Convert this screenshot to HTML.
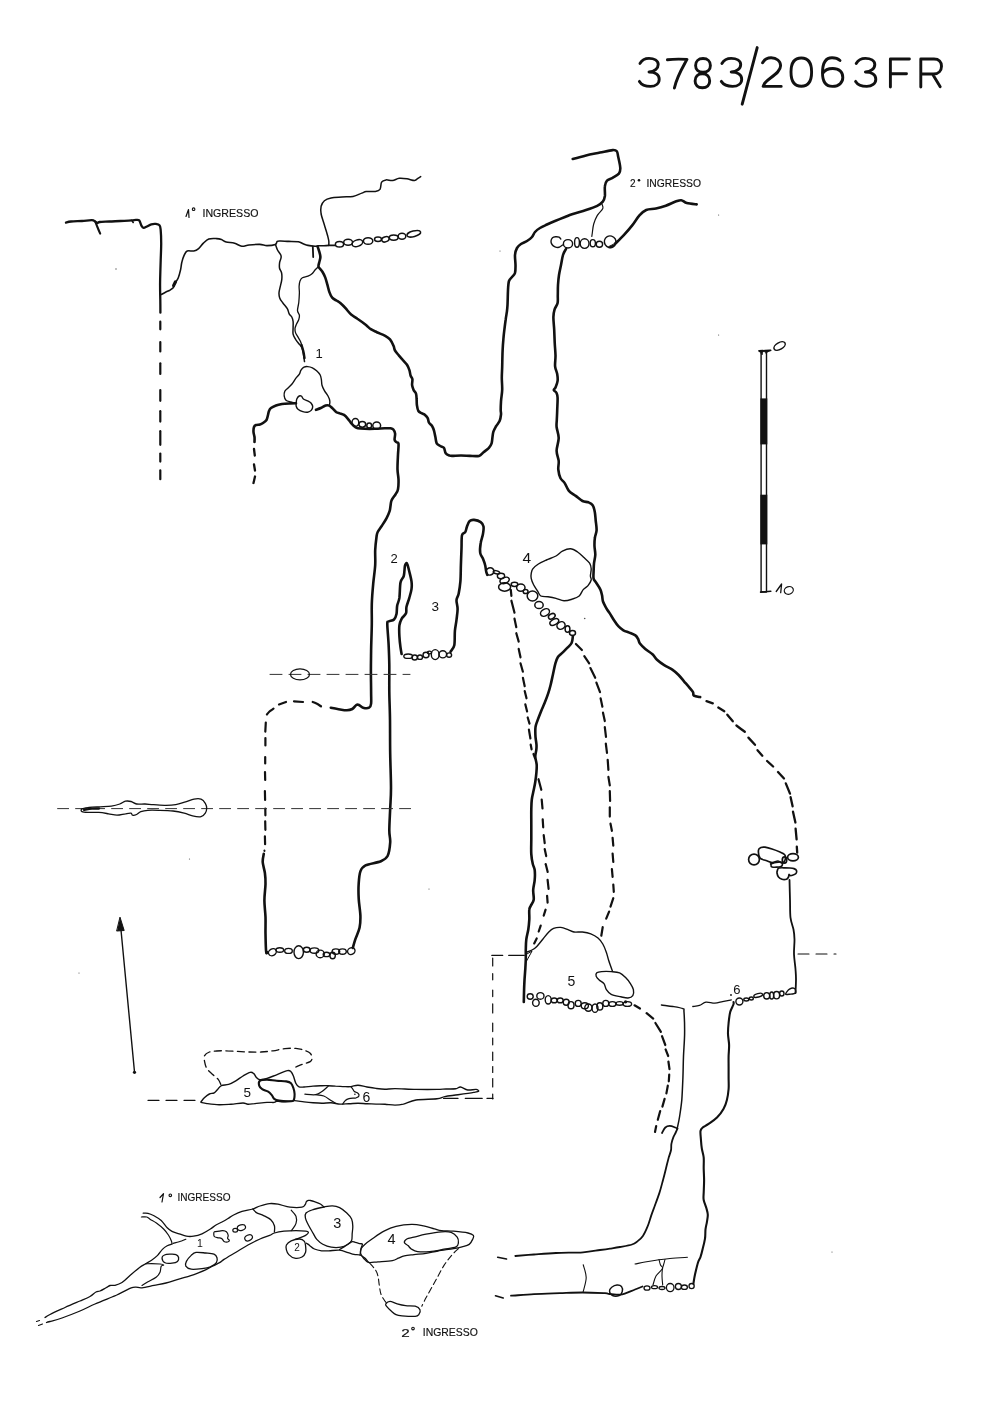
<!DOCTYPE html>
<html><head><meta charset="utf-8"><title>3783/2063FR</title>
<style>
html,body{margin:0;padding:0;background:#fff;}
body{width:1000px;height:1411px;overflow:hidden;}
svg{display:block;}
svg text{font-family:"Liberation Sans",sans-serif;fill:#111;stroke:none;}
</style></head>
<body>
<svg width="1000" height="1411" viewBox="0 0 1000 1411">
<defs><filter id="gs" x="-0.2" y="-0.5" width="1.4" height="2"><feColorMatrix type="saturate" values="0"/></filter></defs>
<rect width="1000" height="1411" fill="#fff"/>
<g fill="none" stroke="#111" stroke-linecap="round" stroke-linejoin="round">
<path d="M66,222.6 C66.8,222.4 68.3,221.8 71,221.5 C73.7,221.2 78.5,221.2 82,221 C85.5,220.8 89.7,220.1 91.9,220.2 C94.1,220.3 94.3,221 95.2,221.5 C96.1,222 96.7,223.1 97.4,223.2 C98.1,223.3 97.6,222.3 99.6,222 C101.6,221.7 106,221.7 109.5,221.5 C113,221.3 116.8,221.2 120.5,221 C124.2,220.8 128.9,220.6 131.5,220.4 C134.1,220.2 134.6,219.9 135.9,219.9 C137.2,219.9 138.3,219.5 139.2,220.4 C140.1,221.3 140.7,224.4 141.4,225.6 C142.1,226.8 142.7,227.7 143.6,227.8 C144.5,228 145.6,227.1 146.9,226.5 C148.2,225.9 149.8,224.7 151.3,224.3 C152.8,223.9 154.3,223.7 155.7,223.9 C157.1,224.1 158.8,224.3 159.6,225.4 C160.4,226.5 160.4,227.3 160.7,230.3 C161,233.3 161.2,238.6 161.2,243.5 C161.2,248.4 160.9,253.6 160.7,260 C160.5,266.4 160.2,275.4 160.1,282 C160,288.6 160.2,294.5 160.3,299.6 C160.4,304.7 160.4,310.5 160.4,312.7" stroke-width="2.3"/>
<path d="M95.2,221.5 C95.6,222.4 96.6,225 97.4,227 C98.2,229 99.7,232.5 100.2,233.6" stroke-width="2.1"/>
<path d="M131.8,220.4 L133.2,222.5" stroke-width="1.6"/>
<path d="M160.3,321.7 L160.3,329.3" stroke-width="2.2"/>
<path d="M160.3,342 L160.3,351.4" stroke-width="2.2"/>
<path d="M160.3,363.3 L160.3,374" stroke-width="2.2"/>
<path d="M160.3,390 L160.3,400.8" stroke-width="2.2"/>
<path d="M160.3,411.2 L160.3,421.6" stroke-width="2.2"/>
<path d="M160.3,431.2 L160.3,444.8" stroke-width="2.2"/>
<path d="M160.3,453.6 L160.3,461.6" stroke-width="2.2"/>
<path d="M160.3,470.4 L160.3,479.2" stroke-width="2.2"/>
<path d="M161.3,294.5 C162,294.1 164.1,292.9 165.5,292.2 C166.9,291.5 168.5,290.9 169.8,290.2 C171.1,289.4 172.4,288.7 173.2,287.7 C174,286.7 173.8,285.6 174.6,284 C175.4,282.4 177.2,280.4 178.2,278 C179.2,275.6 180,272.2 180.6,269.6 C181.2,267 181.2,264.8 181.8,262.4 C182.4,260 183.3,257.1 184.2,255.2 C185.1,253.3 185.6,251.7 187.2,251 C188.8,250.3 191.9,251.4 193.8,251 C195.7,250.6 197,249.9 198.6,248.6 C200.2,247.3 201.7,244.8 203.4,243.2 C205.1,241.6 206.6,239.8 208.8,239 C211,238.2 214.5,238.5 216.6,238.6 C218.7,238.7 219.8,239 221.4,239.6 C223,240.2 224,241.4 226.2,242 C228.4,242.6 232,242.5 234.6,243.2 C237.2,243.9 239.4,245.9 241.8,246.2 C244.2,246.5 246,245.3 249,245 C252,244.7 256.8,244.3 259.8,244.4 C262.8,244.5 264.4,245.6 267,245.6 C269.6,245.6 273.7,245.1 275.4,244.4 C277.1,243.7 276.3,242 277.2,241.4 C278.1,240.8 278.9,241 280.8,241 C282.7,241 285.9,241.3 288.8,241.4 C291.7,241.5 296,241.4 298.4,241.8 C300.8,242.2 301.6,243.2 303.2,243.8 C304.8,244.4 306,245 308,245.4 C310,245.8 313.5,246.1 315.2,246.2 C316.9,246.3 316.9,245.9 318.4,245.8 C319.9,245.7 322.3,245.9 324,245.8 C325.7,245.7 326.9,245.5 328.8,245.4 C330.7,245.3 334.1,245.4 335.2,245.4" stroke-width="1.6"/>
<path d="M173.6,285.6 L175.4,282" stroke-width="3.2"/>
<path d="M275.4,244.4 C275.8,245.3 276.6,248.2 277.5,250 C278.4,251.8 280.2,253.7 280.8,255 C281.4,256.3 281.2,256.7 281,258 C280.8,259.3 279.9,260.9 279.6,262.6 C279.4,264.3 279.2,266.3 279.5,268 C279.8,269.7 281.2,271.1 281.6,273 C282,274.9 282,277.2 281.8,279.4 C281.6,281.6 280.8,284.2 280.3,286.4 C279.8,288.6 279.1,290.9 279,292.8 C278.9,294.7 279.1,296.2 279.7,297.9 C280.3,299.6 281.6,301.2 282.9,303 C284.2,304.8 286.2,306.9 287.3,308.7 C288.4,310.5 288.4,312.4 289.2,313.8 C289.9,315.2 291.1,315.7 291.8,317 C292.5,318.3 292.9,319.7 293.1,321.5 C293.3,323.3 293.1,325.7 293.1,327.8 C293.1,329.9 292.7,332.3 293.1,334.2 C293.5,336.1 294.6,337.6 295.6,339.3 C296.7,341 298.3,343 299.4,344.4 C300.5,345.8 301.4,346.1 302,347.6 C302.6,349.1 302.9,351 303.3,353.3 C303.7,355.6 304.3,360.2 304.5,361.6" stroke-width="1.5"/>
<path d="M318.4,266.6 C317.9,267.1 316.3,268.6 315.2,269.8 C314.1,271 313.2,272.7 312,273.8 C310.8,274.9 309.6,275.5 308,276.2 C306.4,276.9 303.7,277 302.4,277.8 C301.1,278.6 300.6,279.6 300,281 C299.4,282.4 299.2,284.4 299.1,286.4 C299,288.4 299.4,290.1 299.4,292.8 C299.3,295.5 299.1,299.3 298.8,302.3 C298.5,305.3 297.4,308.5 297.5,310.6 C297.6,312.7 299.2,313.6 299.4,315.1 C299.6,316.6 299.3,317.9 298.8,319.5 C298.3,321.1 296.9,323.1 296.3,324.6 C295.7,326.1 295.1,327.1 295,328.5 C294.9,329.9 295.1,331.4 295.6,332.9 C296.1,334.4 297.4,335.9 298.2,337.4 C299,338.9 300.1,340.4 300.7,341.9 C301.3,343.4 301.8,345.6 302,346.3" stroke-width="1.3"/>
<path d="M301.5,345 C301.8,346.2 303,349.8 303.5,352 C304,354.2 304.3,357 304.5,358" stroke-width="2.4"/>
<path d="M312.8,246.6 L313.2,257" stroke-width="1.8"/>
<path d="M328.8,245.4 C328.8,244.7 329,242.6 328.8,241 C328.6,239.4 328.4,238.7 327.7,236 C327,233.3 325.5,228.7 324.4,225 C323.3,221.3 321.7,217.1 321.1,214 C320.6,210.9 320.6,208.5 321.1,206.3 C321.7,204.1 322.8,202.2 324.4,200.8 C326,199.4 328.1,198.6 331,198 C333.9,197.4 338.3,197.3 342,197 C345.7,196.7 349.7,197.1 353,196.4 C356.3,195.8 359.6,193.9 361.8,193.1 C364,192.3 364,191.8 366.2,191.5 C368.4,191.2 372.7,191.9 375,191.5 C377.3,191.1 378.9,190.9 380,189.3 C381.1,187.7 380.6,183.7 381.6,182.1 C382.6,180.5 384.2,180.2 386,179.9 C387.8,179.6 390.4,180.8 392.6,180.5 C394.8,180.2 396.8,178.6 399.2,178.3 C401.6,178 404.3,178.4 406.9,178.8 C409.5,179.2 412.8,180.6 414.6,180.5 C416.4,180.4 416.9,179 417.9,178.3 C418.9,177.7 420.2,176.9 420.7,176.6" stroke-width="1.5"/>
<ellipse cx="339.5" cy="244.2" rx="4.1" ry="2.8" stroke-width="1.5"/>
<ellipse cx="348.1" cy="242.3" rx="4.4" ry="3" stroke-width="1.5"/>
<ellipse cx="357.4" cy="243.1" rx="5.5" ry="3.2" stroke-width="1.5" transform="rotate(-20 357.4 243.1)"/>
<ellipse cx="368.1" cy="241" rx="4.7" ry="3.3" stroke-width="1.5"/>
<ellipse cx="378" cy="239.3" rx="3.5" ry="2.2" stroke-width="1.5"/>
<ellipse cx="385.4" cy="239.3" rx="3.8" ry="2.5" stroke-width="1.5" transform="rotate(-20 385.4 239.3)"/>
<ellipse cx="393.7" cy="237.6" rx="4.4" ry="2.7" stroke-width="1.5"/>
<ellipse cx="402" cy="236.3" rx="3.8" ry="3" stroke-width="1.5"/>
<ellipse cx="413.8" cy="233.8" rx="7" ry="2.8" stroke-width="1.5" transform="rotate(-15 413.8 233.8)"/>
<path d="M317.6,246.6 C317.9,247.4 318.7,249.7 319.2,251.4 C319.7,253.1 320.4,255.1 320.4,257 C320.4,258.9 319.5,261 319.2,262.6 C318.9,264.2 318.1,265.3 318.6,266.8 C319.1,268.3 321.3,270 322.4,271.8 C323.5,273.6 324.4,275.3 325.2,277.4 C326,279.5 326.6,281.9 327.3,284.4 C328,286.8 328.6,289.9 329.4,292.1 C330.2,294.3 331,296.3 332.2,297.7 C333.4,299.1 335,299.6 336.4,300.5 C337.8,301.4 339.1,302 340.6,303.3 C342.1,304.6 343.8,306.3 345.5,308.2 C347.2,310.1 349.1,312.8 351.1,314.5 C353.1,316.2 354.9,316.9 357.4,318.7 C359.9,320.4 363.8,323.2 366,325 C368.2,326.8 369,328 370.8,329.2 C372.6,330.4 374.4,331.1 376.8,332.2 C379.2,333.3 383,334.6 385.2,335.8 C387.4,337 388.6,337.7 390,339.4 C391.4,341.1 392.8,344.1 393.6,346 C394.4,347.9 394.1,348.9 395,350.5 C395.9,352.1 397.7,354 399,355.6 C400.3,357.2 401.5,358.5 402.8,360 C404.1,361.5 405.9,363.1 407,364.8 C408.1,366.5 408.8,368.4 409.4,370.2 C410,372 410.1,374.1 410.6,375.6 C411.1,377.1 412.1,377.6 412.4,379.2 C412.6,380.8 411.9,383.4 412.1,385.2 C412.3,387 413,388.6 413.6,390 C414.2,391.4 415.5,392.1 416,393.6 C416.5,395.1 416.5,397.1 416.6,399 C416.8,400.9 416.6,403 416.9,405 C417.2,407 417.5,409.6 418.4,411 C419.2,412.4 420.9,412.7 422,413.4 C423.1,414.1 424.1,414.2 425,415 C425.9,415.8 427,416.8 427.7,418.1 C428.4,419.4 428.2,421.2 429,422.6 C429.8,424 431.4,424.9 432.2,426.2 C433,427.5 433.5,428.9 434,430.7 C434.5,432.5 434.9,434.9 435.4,437 C435.8,439.1 435.9,441.8 436.7,443.3 C437.5,444.8 439.1,445.2 440.3,446 C441.5,446.8 443,446.6 443.9,447.8 C444.8,449 444.8,451.9 445.7,453.2 C446.6,454.5 448.2,455.1 449.3,455.5 C450.4,455.9 450.1,455.9 452,455.9 C453.9,455.9 458,455.5 461,455.5 C464,455.5 467,455.8 470,455.9 C473,456 476.8,456.5 479,455.9 C481.2,455.3 481.9,453.6 483.5,452.3 C485.1,451 487.5,449.3 488.9,447.8 C490.2,446.3 491,445.1 491.6,443.3 C492.2,441.5 492.2,438.9 492.5,437 C492.8,435.1 492.8,433.4 493.4,431.6 C494,429.8 495.1,428 496.1,426.2 C497.2,424.4 498.9,422.8 499.7,420.8 C500.5,418.9 500.8,416.3 501,414.5 C501.2,412.7 500.7,412.2 500.7,410 C500.7,407.8 500.8,404.7 501,401.3 C501.2,397.9 502.1,393.5 502.2,389.6 C502.3,385.7 501.8,381.8 501.8,377.9 C501.8,374 502.1,370.8 502.2,366.3 C502.3,361.8 502.4,355.2 502.6,350.7 C502.8,346.1 503.1,342.2 503.4,339 C503.7,335.8 503.8,334.4 504.2,331.2 C504.6,327.9 505.2,322.8 505.7,319.5 C506.1,316.2 506.6,314.1 506.9,311.7 C507.2,309.3 507.3,308.6 507.5,305 C507.7,301.4 507.8,294 508,290 C508.2,286 508.3,283.2 509,281 C509.7,278.8 511,278.3 512,277 C513,275.7 514.4,275 515,273 C515.6,271 515.5,268 515.5,265 C515.5,262 514.8,257.8 515,255 C515.2,252.2 516,249.8 517,248 C518,246.2 519.3,245.2 521,244 C522.7,242.8 525.2,242.2 527,241 C528.8,239.8 530.7,238.5 532,237 C533.3,235.5 533.7,233.5 535,232 C536.3,230.5 538,229.2 540,228 C542,226.8 544.5,225.7 547,224.5 C549.5,223.3 552,222.2 555,221 C558,219.8 562.2,218.1 565,217 C567.8,215.9 568.5,215.4 572,214.2 C575.5,213 581.8,211.4 586,210 C590.2,208.6 594.4,207.2 597.2,205.8 C600,204.4 601.5,203.2 602.8,201.6 C604.1,200 604.5,198.6 604.9,196 C605.2,193.4 604.5,188.8 604.9,186.2 C605.2,183.6 605.7,182 607,180.6 C608.3,179.2 610.6,179 612.6,177.8 C614.6,176.6 617.6,175.2 618.9,173.6 C620.2,172 620.4,170.8 620.3,168 C620.2,165.2 618.8,159.6 618.2,156.8 C617.6,154 617.7,152.3 616.8,151.2 C615.9,150.1 615.4,149.9 612.6,150.1 C609.8,150.3 604.4,151.7 600,152.6 C595.6,153.5 590.5,154.3 586,155.4 C581.5,156.5 574.9,158.3 572.7,158.9" stroke-width="2.6"/>
<path d="M602.1,204.4 C602.2,205.1 603.6,206.7 602.8,208.6 C602,210.5 598.7,213 597.2,215.6 C595.7,218.2 594.5,221.1 593.7,224 C592.9,226.9 592.6,230.9 592.3,233 C592,235.1 591.9,235.8 591.8,236.4" stroke-width="1.2"/>
<path d="M560.8,239 C560.5,238.7 559.9,237.6 559,237.2 C558.1,236.8 556.6,236.7 555.5,236.8 C554.4,236.9 553.2,237.1 552.5,237.8 C551.8,238.5 551.1,239.9 551,241 C550.9,242.1 551.3,243.5 552,244.5 C552.7,245.5 553.8,246.3 555,246.8 C556.2,247.3 557.8,247.6 559,247.3 C560.2,247 561.9,245.4 562.5,245" stroke-width="1.4"/>
<ellipse cx="568" cy="243.8" rx="4.6" ry="4.2" stroke-width="1.4"/>
<ellipse cx="577" cy="242.4" rx="2.4" ry="4.8" stroke-width="1.4"/>
<ellipse cx="584.6" cy="243.6" rx="4.4" ry="4.8" stroke-width="1.4"/>
<ellipse cx="592.8" cy="243.2" rx="2.6" ry="3.6" stroke-width="1.4"/>
<ellipse cx="599.4" cy="244.2" rx="3.2" ry="3" stroke-width="1.4"/>
<ellipse cx="610.2" cy="241.8" rx="5.8" ry="6" stroke-width="1.4" transform="rotate(-30 610.2 241.8)"/>
<path d="M611,247.5 Q616,246 616.5,241 Q614,245 609,246.5 Z" fill="#111" stroke-width="1"/>
<path d="M615.4,243.6 C616.8,242.2 621,238.2 623.8,235.2 C626.6,232.2 629.6,228.7 632.2,225.4 C634.8,222.1 636.9,218.2 639.2,215.6 C641.5,213 643.4,211.2 646.2,210 C649,208.8 652.7,209.3 656,208.6 C659.3,207.9 662.5,207 665.8,205.8 C669.1,204.6 673,202.5 675.6,201.6 C678.2,200.7 679.3,200 681.2,200.2 C683.1,200.4 684.2,202.3 686.8,203 C689.4,203.7 695.1,204.2 696.7,204.4" stroke-width="2.6"/>
<path d="M566,249 C565.5,250 563.8,252.3 563,255 C562.2,257.7 561.7,261.7 561,265 C560.3,268.3 559.5,271.7 559,275 C558.5,278.3 558.2,281.7 558,285 C557.8,288.3 557.9,292 557.8,295 C557.7,298 558.1,300.6 557.6,303 C557.1,305.4 555.3,307.1 554.6,309.4 C553.9,311.7 553.5,313.6 553.4,317 C553.3,320.4 554,325.6 554.2,329.8 C554.4,334.1 554.5,338.2 554.7,342.5 C554.9,346.8 555.4,351.3 555.5,355.3 C555.6,359.3 554.8,363.2 555.1,366.3 C555.4,369.4 556.8,371.6 557.2,374 C557.6,376.4 557.9,378.5 557.6,380.8 C557.3,383.1 556.1,386.1 555.5,387.6 C554.9,389.2 553.6,389.2 553.8,390.1 C553.9,391 555.8,391.4 556.4,392.7 C557,394 557.5,394.8 557.6,397.8 C557.7,400.8 557.3,406.8 557.2,410.5 C557.1,414.2 556.9,417.2 556.8,420 C556.7,422.8 556.3,424 556.6,427 C556.9,430 558.7,434.1 558.7,438.1 C558.7,442.1 556.6,447 556.6,450.8 C556.6,454.6 558.4,457.9 558.7,461 C559,464.1 558,466.7 558.3,469.5 C558.6,472.3 559.3,475.7 560.4,478 C561.5,480.3 563.3,481 564.7,483.1 C566.1,485.2 567.1,488.7 568.9,490.8 C570.7,492.9 573.4,494.2 575.7,495.9 C578,497.6 580.4,499.9 582.5,501 C584.6,502.1 586.8,501.6 588.5,502.3 C590.2,503 591.7,503.6 592.7,505.2 C593.8,506.8 594.3,509.4 594.8,512 C595.3,514.5 595.4,517.5 595.7,520.5 C596,523.5 596.7,527.2 596.6,530.1 C596.5,533 595.2,535.1 594.9,537.8 C594.5,540.5 594.4,543.5 594.5,546.3 C594.6,549.1 595.4,552 595.3,554.8 C595.2,557.6 594.3,560.5 594,563.3 C593.7,566.1 593.7,569.2 593.6,571.8 C593.5,574.3 593.2,576.8 593.6,578.6 C594,580.4 595.1,581 596.2,582.8 C597.3,584.6 599.4,587.5 600.4,589.6 C601.4,591.7 601.7,593.6 602.1,595.6 C602.5,597.6 602.3,599.4 603,601.5 C603.7,603.6 605.3,606.3 606.4,608.3 C607.5,610.3 608.5,611.4 609.8,613.4 C611.1,615.4 612.6,618.1 614,620.2 C615.4,622.3 616.7,624.5 618.3,626.2 C619.9,627.9 621.6,629.3 623.4,630.4 C625.2,631.5 627.3,631.8 629.3,632.6 C631.3,633.4 633.9,634.3 635.4,635.4 C636.9,636.5 637.4,637.6 638.1,639 C638.9,640.4 638.7,641.9 639.9,643.5 C641.1,645.1 643.2,647.1 645.3,648.9 C647.4,650.7 650.5,652.5 652.5,654.3 C654.5,656.1 655,657.9 657,659.7 C659,661.5 661.7,663.5 664.2,665.1 C666.8,666.8 669.9,668 672.3,669.6 C674.7,671.2 676.6,673 678.6,675 C680.6,677 682.2,679.2 684,681.3 C685.8,683.4 687.9,685.8 689.4,687.6 C690.9,689.4 692.2,690.8 693,692.1 C693.8,693.5 692.7,694.9 693.9,695.7 C695.1,696.5 699.2,696.9 700.2,697.1" stroke-width="2.6"/>
<path d="M706.5,701.1 L712.8,703.4" stroke-width="2.3"/>
<path d="M718.3,707.5 L724.3,711.2" stroke-width="2.3"/>
<path d="M727.3,714.7 L732.8,721.3" stroke-width="2.3"/>
<path d="M736.4,725.5 L741,729 L744.8,731.8" stroke-width="2.3"/>
<path d="M748.4,737.6 L755,744.8" stroke-width="2.3"/>
<path d="M757.5,750.2 L762.3,755.7" stroke-width="2.3"/>
<path d="M767.1,761 L773.1,766.5" stroke-width="2.3"/>
<path d="M778,772 L784,778.5" stroke-width="2.3"/>
<path d="M785.8,783.4 L790,793.6" stroke-width="2.3"/>
<path d="M790.6,797.2 L792.6,806.3" stroke-width="2.3"/>
<path d="M793,811.7 L795.4,822.5" stroke-width="2.3"/>
<path d="M795.6,828.6 L796.6,839.4" stroke-width="2.3"/>
<path d="M796.8,846.6 L797.2,852.7" stroke-width="2.3"/>
<path d="M295.6,403.2 C294.8,403 292.4,402.5 290.8,402 C289.2,401.5 287.1,401.2 286,400.2 C284.9,399.2 284.4,397.5 284.2,396 C284,394.5 284.2,392.5 284.8,391.2 C285.4,389.9 286.6,389.4 287.8,388.2 C289,387 290.7,385.6 292,384 C293.3,382.4 294.4,380.2 295.6,378.6 C296.8,377 298.3,375.8 299.2,374.4 C300.1,373 300.2,371.4 301,370.2 C301.8,369 302.9,367.8 304,367.2 C305.1,366.6 306.2,366.5 307.6,366.6 C309,366.7 310.9,367.1 312.4,367.8 C313.9,368.5 315.3,369.6 316.6,370.8 C317.9,372 319.4,373.5 320.2,375 C321,376.5 321.1,378.1 321.4,379.8 C321.7,381.5 321.5,383.4 322,385.2 C322.5,387 323.4,388.8 324.4,390.6 C325.4,392.4 327.1,394.3 328,396 C328.9,397.7 329.6,399.3 329.8,400.8 C330.1,402.3 329.6,404.3 329.5,405" stroke-width="1.4"/>
<path d="M296.2,403.2 C296.3,402 296.3,400.2 296.8,399 C297.3,397.8 298.4,396.4 299.2,396 C300,395.6 300.9,395.8 301.6,396.3 C302.3,396.8 302.4,398.2 303.4,399 C304.4,399.8 306.3,400.1 307.6,400.8 C308.9,401.5 310.4,402.2 311.2,403.2 C312,404.2 312.7,405.6 312.7,406.8 C312.7,408 312,409.5 311.2,410.4 C310.4,411.3 309,412 307.6,412.2 C306.2,412.4 304.4,412.1 302.8,411.6 C301.2,411.1 299.1,410.1 298,409.2 C296.9,408.3 296.5,407.2 296.2,406.2 C295.9,405.2 296.1,404.4 296.2,403.2Z" stroke-width="1.4"/>
<path d="M296,403.3 C295,403.3 292.3,403.3 290,403.4 C287.7,403.5 284.3,403.6 282,404 C279.7,404.4 277.8,404.8 276,405.5 C274.2,406.2 272.2,407.1 271,408 C269.8,408.9 269.5,409.8 269,411 C268.5,412.2 268.4,413.5 268,415 C267.6,416.5 267.3,418.7 266.5,420 C265.7,421.3 264.1,422.2 263,423 C261.9,423.8 261.2,424.2 260,424.5 C258.8,424.8 257,424.6 256,425 C255,425.4 254.4,425.8 254,427 C253.6,428.2 253.4,430.3 253.5,432 C253.6,433.7 254.3,435.3 254.5,437 C254.7,438.7 254.5,441.2 254.5,442" stroke-width="2.6"/>
<path d="M254,449 L254.8,455.5" stroke-width="2.3"/>
<path d="M254,464.5 L255,470.5" stroke-width="2.3"/>
<path d="M255,476.5 L253.5,483" stroke-width="2.3"/>
<path d="M316,409.8 C316.8,409.5 319.2,408.7 320.8,408 C322.4,407.3 324.2,406 325.6,405.6 C327,405.2 328.1,405.2 329.2,405.6 C330.3,406 331,406.9 332.2,408 C333.4,409.1 335.1,411.3 336.4,412.2 C337.7,413.1 338.7,412.9 340,413.4 C341.3,413.8 342.7,414 344,414.9 C345.3,415.8 346.8,417.5 347.9,418.8 C349,420.1 349.7,421.5 350.9,422.8 C352.1,424.1 353.7,425.9 354.9,426.8 C356.1,427.7 356.2,428 357.9,428.3 C359.5,428.6 362,428.7 364.8,428.8 C367.6,428.9 371.4,428.9 374.7,428.8 C378,428.7 382,428.4 384.6,428.3 C387.2,428.2 389.1,428.1 390.6,428.3 C392.1,428.6 392.9,428.9 393.6,429.8 C394.4,430.7 394.9,432.1 395.1,433.7 C395.3,435.3 394.4,438.3 394.6,439.7 C394.8,441.1 395.9,441.5 396.5,442.2 C397.1,442.9 398.2,441.6 398.5,443.7 C398.8,445.8 398.2,450.3 398,454.6 C397.8,458.9 397.4,465.3 397.5,469.4 C397.6,473.5 398.4,476.1 398.5,479.4 C398.6,482.7 398.5,486.8 398,489.3 C397.5,491.8 396.7,492.4 395.6,494.2 C394.5,496 392.4,498.4 391.6,500.2 C390.8,502 390.9,503.4 390.6,505.2 C390.3,507 390.3,509 389.6,511.1 C388.9,513.2 387.9,515.6 386.6,518.1 C385.3,520.6 383.2,523.7 381.7,526 C380.2,528.3 378.6,530.2 377.7,532 C376.8,533.8 376.9,534 376.5,537 C376.1,540 375.4,545.5 375.2,550.2 C375,554.9 375.5,559.4 375.2,565 C374.9,570.6 373.8,577.3 373.2,583.8 C372.6,590.3 372,597.3 371.8,604 C371.6,610.7 371.9,616.4 371.8,624.2 C371.7,632.1 371.2,643.2 371.1,651.1 C371,659 370.9,664.6 370.9,671.3 C370.9,678 371.1,686.1 371.1,691.5 C371.1,696.9 371.4,700.9 371.1,703.6 C370.8,706.3 370.4,707 369.1,707.7 C367.8,708.4 364.8,708.2 363.1,707.7 C361.4,707.2 360.1,705.5 359,705 C357.9,704.5 357.4,704.3 356.3,705 C355.2,705.7 353.9,708.1 352.3,709 C350.7,709.9 349.4,710.3 346.9,710.3 C344.4,710.3 340.2,709.4 337.5,709 C334.8,708.6 331.9,707.9 330.8,707.7" stroke-width="2.6"/>
<ellipse cx="355.4" cy="422.4" rx="3.4" ry="3.9" stroke-width="1.5"/>
<ellipse cx="362.3" cy="424.3" rx="3.4" ry="2.9" stroke-width="1.5"/>
<ellipse cx="369.2" cy="425.5" rx="2.4" ry="2.6" stroke-width="1.5"/>
<ellipse cx="376.7" cy="425.5" rx="3.9" ry="3.6" stroke-width="1.5"/>
<path d="M321,706.3 C320.2,705.8 317.9,704.2 316.5,703.5 C315.1,702.8 313.3,702.2 312.7,702" stroke-width="2.2"/>
<path d="M303,702 L294,701.4" stroke-width="2.2"/>
<path d="M286,702 L279,704.5" stroke-width="2.2"/>
<path d="M273.5,708.7 C272.8,709.2 270.6,710.5 269.5,711.5 C268.4,712.5 267.3,714 266.9,714.5" stroke-width="2.2"/>
<path d="M265.8,722.5 L265.3,731.6" stroke-width="2.2"/>
<path d="M265.4,738 L265.4,745.4" stroke-width="2.2"/>
<path d="M265.2,757 L265.2,763.5" stroke-width="2.2"/>
<path d="M265,772 L265.2,780" stroke-width="2.2"/>
<path d="M264.9,791 L265.1,800" stroke-width="2.2"/>
<path d="M265.3,808.7 L265.4,815.3" stroke-width="2.2"/>
<path d="M265.2,821.3 L265.4,829.8" stroke-width="2.2"/>
<path d="M264.9,836.4 L265.1,844.2" stroke-width="2.2"/>
<path d="M264.4,850.5 L264.5,851" stroke-width="2"/>
<path d="M263.8,853.8 C263.6,855.2 262.5,858.8 262.7,862 C262.9,865.2 264.4,869.3 264.9,873 C265.4,876.7 265.6,879.4 265.5,884 C265.4,888.6 264.4,895 264.4,900.5 C264.4,906 265.3,911.5 265.5,917 C265.7,922.5 265.4,928 265.5,933.5 C265.6,939 265.8,946.7 266,950 C266.2,953.3 266.4,952.8 266.5,953.3" stroke-width="2.6"/>
<ellipse cx="272.4" cy="952.2" rx="4.1" ry="3.3" stroke-width="1.4" transform="rotate(-30 272.4 952.2)"/>
<ellipse cx="279.8" cy="950" rx="3.8" ry="2.2" stroke-width="1.4"/>
<ellipse cx="288.5" cy="950.9" rx="3.8" ry="2.5" stroke-width="1.4"/>
<ellipse cx="298.7" cy="952.2" rx="4.7" ry="6.4" stroke-width="1.4"/>
<ellipse cx="306.7" cy="949.8" rx="3.3" ry="2.5" stroke-width="1.4"/>
<ellipse cx="314.4" cy="950.6" rx="4.4" ry="2.7" stroke-width="1.4"/>
<ellipse cx="320.2" cy="953.9" rx="4.1" ry="3.8" stroke-width="1.4"/>
<ellipse cx="326.5" cy="954.4" rx="3.3" ry="2.2" stroke-width="1.4"/>
<ellipse cx="332.6" cy="955.5" rx="2.7" ry="3.3" stroke-width="1.4"/>
<ellipse cx="335.9" cy="951.6" rx="3.8" ry="2.7" stroke-width="1.4"/>
<ellipse cx="342.5" cy="951.6" rx="3.8" ry="2.7" stroke-width="1.4"/>
<ellipse cx="351.3" cy="951.1" rx="3.8" ry="3.3" stroke-width="1.4" transform="rotate(-30 351.3 951.1)"/>
<circle cx="267" cy="952.5" r="1.8" fill="#111" stroke="none"/>
<path d="M352.8,947.9 C353.2,946.5 354.2,942.8 355.3,939.4 C356.4,936 358.8,931.5 359.6,927.5 C360.5,923.5 360.5,920.4 360.4,915.6 C360.2,910.8 359,904 358.7,898.6 C358.4,893.2 358.4,887.8 358.7,883.3 C359,878.8 359.3,874.4 360.4,871.4 C361.5,868.4 362.1,867.1 365.5,865.4 C368.9,863.7 377.1,862.8 380.8,861.2 C384.5,859.6 386,859.1 387.6,856 C389.2,852.9 389.9,846.6 390.2,842.4 C390.5,838.1 389.3,836.2 389.3,830.5 C389.3,824.8 389.9,815.5 390.2,808.4 C390.5,801.3 391,797.1 391,788 C391,778.9 390.4,765.3 390.2,754 C390,742.7 390.1,730.4 390,720 C389.9,709.6 389.4,700.7 389.3,691.5 C389.2,682.3 389.4,672.5 389.3,664.6 C389.2,656.8 388.9,651.1 388.6,644.4 C388.3,637.7 387.3,628 387.3,624.2 C387.3,620.4 387.5,622.3 388.6,621.5 C389.7,620.7 392.7,620.8 394,619.5 C395.3,618.2 396,616.3 396.5,614 C397,611.7 396.7,608.3 397.2,605.6 C397.7,602.9 398.8,601.8 399.4,597.9 C399.9,594 399.8,586.2 400.5,582.5 C401.2,578.8 403.1,578.6 403.8,575.9 C404.5,573.1 404.5,568.1 404.9,566 C405.3,563.9 405.6,563.9 406,563.5 C406.4,563.1 406.6,562.5 407.1,563.8 C407.7,565.1 408.6,568.6 409.3,571.5 C410,574.4 411.1,578.5 411.5,581.4 C411.9,584.3 411.9,586.4 411.5,589.1 C411.1,591.9 410.1,595 409.3,597.9 C408.5,600.8 407.1,604.1 406.5,606.7 C405.9,609.3 406.8,611.3 406,613.3 C405.2,615.3 402.7,616.8 401.6,618.8 C400.5,620.8 399.8,622.5 399.4,625.4 C399,628.3 399.2,632.7 399.4,636.4 C399.6,640.1 400.1,644.5 400.5,647.4 C400.9,650.3 401.4,652.9 401.6,654" stroke-width="2.6"/>
<ellipse cx="408.2" cy="656.2" rx="4.4" ry="2.2" stroke-width="1.4"/>
<ellipse cx="414.7" cy="657.5" rx="2.7" ry="2.5" stroke-width="1.4"/>
<ellipse cx="420" cy="657.2" rx="2.5" ry="2.2" stroke-width="1.4"/>
<ellipse cx="426" cy="655" rx="3" ry="2.7" stroke-width="1.4"/>
<ellipse cx="429.5" cy="652.5" rx="2" ry="1.4" stroke-width="1.4"/>
<ellipse cx="435.2" cy="654.6" rx="3.9" ry="5" stroke-width="1.4"/>
<ellipse cx="442.8" cy="654.3" rx="3.8" ry="3.6" stroke-width="1.4"/>
<ellipse cx="449.1" cy="655.1" rx="2.5" ry="2.2" stroke-width="1.4"/>
<path d="M450.5,651.8 C451.1,650.7 453.6,648.7 454.3,645.2 C455,641.7 454.5,635.1 454.9,630.9 C455.3,626.7 456.1,623.6 456.5,619.9 C456.9,616.2 457.6,612.2 457.6,608.9 C457.6,605.6 456.3,602.7 456.5,600.1 C456.7,597.5 458.1,596.6 458.7,593.5 C459.3,590.4 460,586.2 460.4,581.4 C460.8,576.6 460.7,570.4 460.9,564.9 C461.1,559.4 461.3,553.4 461.5,548.5 C461.7,543.6 461.4,538 462,535.3 C462.6,532.5 464.5,533.5 465.3,532 C466.1,530.5 466.3,528.3 467,526.5 C467.7,524.7 468.5,522.1 469.7,521 C470.9,519.9 472.3,519.7 474.1,519.9 C475.9,520.1 479.1,521 480.7,522.1 C482.3,523.2 483.1,524.5 483.5,526.5 C483.9,528.5 483.4,531.5 482.9,534.2 C482.4,537 481.1,539.9 480.7,543 C480.2,546.1 479.8,550.3 480.2,552.9 C480.6,555.5 482.1,556.4 482.9,558.4 C483.7,560.4 484.6,562.7 485.1,564.9 C485.7,567.1 485.8,569.9 486.2,571.5 C486.6,573.1 487.1,574.2 487.3,574.8" stroke-width="2.6"/>
<ellipse cx="490" cy="571.4" rx="3.9" ry="3.6" stroke-width="1.5" transform="rotate(-20 490 571.4)"/>
<ellipse cx="496.5" cy="572.3" rx="3.3" ry="1.5" stroke-width="1.5" transform="rotate(15 496.5 572.3)"/>
<ellipse cx="501" cy="576" rx="3.6" ry="2.7" stroke-width="1.5"/>
<ellipse cx="504.6" cy="580.4" rx="4.8" ry="3" stroke-width="1.5" transform="rotate(-20 504.6 580.4)"/>
<ellipse cx="504.6" cy="587" rx="6" ry="4.2" stroke-width="1.5"/>
<ellipse cx="514.5" cy="584.3" rx="3.3" ry="2.1" stroke-width="1.5"/>
<ellipse cx="520.8" cy="587.6" rx="4.2" ry="3.6" stroke-width="1.5"/>
<ellipse cx="525.6" cy="591.5" rx="2.4" ry="2.1" stroke-width="1.5"/>
<ellipse cx="532.5" cy="596" rx="5.3" ry="5" stroke-width="1.5"/>
<ellipse cx="539" cy="605" rx="4.2" ry="3.6" stroke-width="1.5"/>
<ellipse cx="545" cy="612.5" rx="4.8" ry="3.3" stroke-width="1.5" transform="rotate(-30 545 612.5)"/>
<ellipse cx="551.8" cy="616.3" rx="3.6" ry="2.4" stroke-width="1.5" transform="rotate(-30 551.8 616.3)"/>
<ellipse cx="554.3" cy="622" rx="4.8" ry="2.7" stroke-width="1.5" transform="rotate(-30 554.3 622)"/>
<ellipse cx="561" cy="625.5" rx="4.2" ry="3.6" stroke-width="1.5" transform="rotate(-30 561 625.5)"/>
<ellipse cx="567.5" cy="629" rx="2.4" ry="3.3" stroke-width="1.5"/>
<ellipse cx="572.5" cy="633" rx="3" ry="2.4" stroke-width="1.5"/>
<path d="M531.2,573.6 C531.5,572 531.6,570.4 532.8,568.8 C534,567.2 536.1,565.5 538.4,564 C540.7,562.5 543.5,561.3 546.4,560 C549.3,558.7 553.3,557.5 556,556 C558.7,554.5 560,552.4 562.4,551.2 C564.8,550 567.9,548.7 570.4,548.8 C572.9,548.9 575.3,550.5 577.6,552 C579.9,553.5 582,555.7 584,557.6 C586,559.5 588.4,561.3 589.6,563.2 C590.8,565.1 591.1,566.7 591.2,568.8 C591.3,570.9 590.4,574.1 590.4,576 C590.4,577.9 591.6,578.4 591.2,580 C590.8,581.6 589.3,584 588,585.6 C586.7,587.2 584.7,587.9 583.2,589.6 C581.7,591.3 581.1,594.4 579.2,596 C577.3,597.6 574.5,598.4 572,599.2 C569.5,600 566.7,600.9 564,600.8 C561.3,600.7 558.7,599.1 556,598.4 C553.3,597.7 550.5,597.2 548,596.8 C545.5,596.4 542.5,596.9 540.8,596 C539.1,595.1 538.8,593.1 537.6,591.2 C536.4,589.3 534.7,586.9 533.6,584.8 C532.5,582.7 531.6,580.3 531.2,578.4 C530.8,576.5 530.9,575.2 531.2,573.6Z" stroke-width="1.4"/>
<path d="M572.9,636 C572.7,637.1 572.6,640.8 571.7,642.8 C570.8,644.8 569.2,645.9 567.5,647.7 C565.8,649.5 563,652.1 561.4,653.7 C559.8,655.3 558.8,655.7 557.8,657.3 C556.8,658.9 556.2,660.5 555.4,663.3 C554.6,666.1 553.8,670.6 553,674.2 C552.2,677.8 551.4,681.8 550.6,685 C549.8,688.2 549.2,690.4 548.2,693.4 C547.2,696.4 545.8,700.1 544.6,703.1 C543.4,706.1 542.2,708.5 541,711.5 C539.8,714.5 538.2,718.5 537.3,721.1 C536.4,723.7 535.8,724.6 535.5,727.2 C535.2,729.8 535.3,733.8 535.5,736.8 C535.7,739.8 536.4,742.8 536.5,745 C536.6,747.2 536.5,747.9 536.3,749.9 C536.1,751.9 535.2,754.4 535.3,756.9 C535.4,759.4 536.5,762 536.7,764.8 C536.9,767.6 536.5,770.9 536.3,773.7 C536.1,776.5 535.7,779.1 535.3,781.7 C534.9,784.4 534.4,786.6 533.8,789.6 C533.2,792.6 532.2,796.2 531.8,799.5 C531.4,802.8 531.4,805.3 531.3,809.4 C531.2,813.5 531.3,819.3 531.3,824.3 C531.3,829.3 531.3,834.2 531.3,839.2 C531.3,844.2 531,850 531.3,854.1 C531.5,858.2 532.2,861.4 532.8,864 C533.4,866.6 534.4,867.4 534.7,870 C535,872.6 535,876.6 534.7,879.9 C534.5,883.2 533.4,886.5 533.2,889.8 C533,893.1 534.1,897.1 533.7,899.8 C533.3,902.4 531.5,904.1 530.8,905.7 C530.1,907.4 529.5,907.4 529.3,909.7 C529,912 529.5,916.3 529.3,919.6 C529.1,922.9 528.8,926.2 528.3,929.5 C527.8,932.8 526.7,936.1 526.3,939.4 C525.9,942.7 525.9,946.1 525.8,949.4 C525.7,952.7 525.9,956 525.8,959.3 C525.7,962.6 525.5,965.1 525.3,969.2 C525,973.3 524.5,978.7 524.3,984.1 C524,989.5 523.9,998.9 523.8,1001.9" stroke-width="2.6"/>
<path d="M510.8,589.8 L511.4,595.8" stroke-width="2.2"/>
<path d="M511.4,600.7 L514.5,612.7" stroke-width="2.2"/>
<path d="M514.5,618.7 L516.3,627.2" stroke-width="2.2"/>
<path d="M516.3,633.2 L518.7,641.6" stroke-width="2.2"/>
<path d="M518.7,648.9 L520.5,657.3" stroke-width="2.2"/>
<path d="M520.5,663.3 L522.9,671.7" stroke-width="2.2"/>
<path d="M522.9,677.8 L524.7,686.2" stroke-width="2.2"/>
<path d="M524.7,691 L526.5,698.3" stroke-width="2.2"/>
<path d="M525.3,704.3 L527.1,711.5" stroke-width="2.2"/>
<path d="M527.7,717.5 L529.5,723.6" stroke-width="2.2"/>
<path d="M528.9,729.6 L530.4,738.5" stroke-width="2.2"/>
<path d="M530.7,744.7 L531.6,749.3" stroke-width="2.2"/>
<path d="M533.5,754 L535,758" stroke-width="2.2"/>
<path d="M538.5,779.2 L541.3,789.8" stroke-width="2.2"/>
<path d="M541.7,799.5 L542.5,808.5" stroke-width="2.2"/>
<path d="M542.7,819.4 L543.2,827.3" stroke-width="2.2"/>
<path d="M543.7,835.2 L544.7,843.2" stroke-width="2.2"/>
<path d="M544.7,849.1 L546.2,856.1" stroke-width="2.2"/>
<path d="M545.7,864 L547.7,872" stroke-width="2.2"/>
<path d="M547.6,879.9 L548.6,888.8" stroke-width="2.2"/>
<path d="M547.1,895.8 L547.6,902.7" stroke-width="2.2"/>
<path d="M545.6,909.7 L543.7,915.6" stroke-width="2.2"/>
<path d="M540.7,925.6 L538.7,931.5" stroke-width="2.2"/>
<path d="M536.7,938.5 L534.2,943.4" stroke-width="2.2"/>
<path d="M575.9,644 L581.9,650" stroke-width="2.2"/>
<path d="M584.3,656.1 L589.2,663.3" stroke-width="2.2"/>
<path d="M590.4,668.1 L595.2,677.8" stroke-width="2.2"/>
<path d="M596.4,682.6 L600,692.2" stroke-width="2.2"/>
<path d="M600.6,698.3 L602.4,706.7" stroke-width="2.2"/>
<path d="M603,712.7 L604.8,721.1" stroke-width="2.2"/>
<path d="M604.8,727.2 L606,736.8" stroke-width="2.2"/>
<path d="M605.8,743.5 L607,752.8" stroke-width="2.2"/>
<path d="M607.7,759.9 L608.4,769.8" stroke-width="2.2"/>
<path d="M608.4,776.9 L609.8,785.4" stroke-width="2.2"/>
<path d="M609.8,791.1 L610.1,801" stroke-width="2.2"/>
<path d="M609.8,807.4 L609.8,816.6" stroke-width="2.2"/>
<path d="M610.5,823.7 L611.9,830.8" stroke-width="2.2"/>
<path d="M612.6,837.9 L613.3,845.7" stroke-width="2.2"/>
<path d="M612.6,853.5 L613.3,862" stroke-width="2.2"/>
<path d="M611.9,869.1 L612.6,876.9" stroke-width="2.2"/>
<path d="M613.3,884.7 L613.8,891.8" stroke-width="2.2"/>
<path d="M613.3,898.2 L610.5,906.7" stroke-width="2.2"/>
<path d="M609.1,911.6 L606.2,918.7" stroke-width="2.2"/>
<path d="M602.7,927.2 L601.3,935.7" stroke-width="2.2"/>
<path d="M526,952.4 C527,952 530.2,951 532,950 C533.8,949 535,948.2 536.8,946.4 C538.6,944.6 540.8,941.6 542.8,939.2 C544.8,936.8 547,933.8 548.8,932 C550.6,930.2 551.6,929.2 553.6,928.4 C555.6,927.6 558.4,927.2 560.8,927.4 C563.2,927.6 565.8,928.8 568,929.6 C570.2,930.4 571.6,931.6 574,932 C576.4,932.4 579.6,931.7 582.4,932 C585.2,932.3 588.2,932.8 590.8,933.8 C593.4,934.8 596,936.3 598,938 C600,939.7 601.4,941.6 602.8,944 C604.2,946.4 605.4,949.6 606.4,952.4 C607.4,955.2 607.8,957.7 608.8,960.8 C609.8,963.9 611.8,969.3 612.4,971" stroke-width="1.4"/>
<path d="M525.4,954.8 L532,951.2 L526,962" stroke-width="1"/>
<path d="M596.8,972.8 C597.7,972 599.2,971.8 601.6,971.6 C604,971.4 608.2,971.4 611.2,971.6 C614.2,971.8 617.2,971.8 619.6,972.8 C622,973.8 623.8,975.8 625.6,977.6 C627.4,979.4 629.1,981.6 630.4,983.6 C631.7,985.6 633,987.6 633.4,989.6 C633.8,991.6 633.7,994.2 632.8,995.6 C631.9,997 630,997.8 628,998 C626,998.2 623.6,997.4 620.8,996.8 C618,996.2 613.6,995.6 611.2,994.4 C608.8,993.2 607.6,991.4 606.4,989.6 C605.2,987.8 605.2,985.2 604,983.6 C602.8,982 600.5,981.2 599.2,980 C597.9,978.8 596.6,977.6 596.2,976.4 C595.8,975.2 595.9,973.6 596.8,972.8Z" stroke-width="1.4"/>
<ellipse cx="530.2" cy="996.5" rx="3" ry="2.7" stroke-width="1.4"/>
<ellipse cx="535.9" cy="1002.8" rx="3.3" ry="3.6" stroke-width="1.4"/>
<ellipse cx="540.4" cy="995.9" rx="3.6" ry="3.3" stroke-width="1.4"/>
<ellipse cx="548.2" cy="999.8" rx="3" ry="4.2" stroke-width="1.4"/>
<ellipse cx="554.2" cy="1000.4" rx="3" ry="2.4" stroke-width="1.4"/>
<ellipse cx="560.2" cy="1000.4" rx="3" ry="2.4" stroke-width="1.4"/>
<ellipse cx="566.2" cy="1002.2" rx="3" ry="3" stroke-width="1.4"/>
<ellipse cx="571" cy="1005.2" rx="3" ry="3.6" stroke-width="1.4"/>
<ellipse cx="578.2" cy="1003.4" rx="3" ry="3" stroke-width="1.4"/>
<ellipse cx="584.8" cy="1005.8" rx="3.6" ry="3" stroke-width="1.4"/>
<ellipse cx="588.4" cy="1007.6" rx="3.6" ry="3.6" stroke-width="1.4"/>
<ellipse cx="595" cy="1008.2" rx="3" ry="4.2" stroke-width="1.4"/>
<ellipse cx="599.8" cy="1006.4" rx="3" ry="3.6" stroke-width="1.4"/>
<ellipse cx="605.8" cy="1003.4" rx="3" ry="3" stroke-width="1.4"/>
<ellipse cx="612.4" cy="1004" rx="3.6" ry="2.4" stroke-width="1.4"/>
<ellipse cx="619.6" cy="1003.4" rx="3.6" ry="1.8" stroke-width="1.4"/>
<ellipse cx="627.4" cy="1004" rx="4.2" ry="2.4" stroke-width="1.4"/>
<circle cx="625.6" cy="1001.8" r="1.6" fill="#111" stroke="none"/>
<path d="M634.5,1005.3 L640,1008.5" stroke-width="2.2"/>
<path d="M646.6,1013.1 L653.2,1018.6" stroke-width="2.2"/>
<path d="M655.4,1023 L660.9,1031.8" stroke-width="2.2"/>
<path d="M662,1036.2 L665.3,1045" stroke-width="2.2"/>
<path d="M665.6,1049.4 L668.2,1056" stroke-width="2.2"/>
<path d="M668.4,1061.5 L669.5,1069.2" stroke-width="2.2"/>
<path d="M669.2,1074.7 L668.8,1081.3" stroke-width="2.2"/>
<path d="M667.8,1085.7 L666.4,1093.4" stroke-width="2.2"/>
<path d="M664.6,1098.9 L662.4,1106.6" stroke-width="2.2"/>
<path d="M660.2,1111 L657.8,1119.8" stroke-width="2.2"/>
<path d="M656.2,1126 L655,1132" stroke-width="2.2"/>
<path d="M661.5,1004.9 C663.4,1005.2 669.4,1005.9 673,1006.5 C676.6,1007.1 681.1,1007.8 682.9,1008.7 C684.7,1009.6 683.7,1007.8 684,1012 C684.3,1016.2 684.7,1026.7 684.6,1034 C684.5,1041.3 683.8,1048.7 683.5,1056 C683.2,1063.3 683.2,1070.7 682.9,1078 C682.6,1085.3 682.3,1093.6 681.8,1100 C681.2,1106.4 680.3,1111.9 679.6,1116.5 C678.9,1121.1 677.8,1125.7 677.4,1127.5" stroke-width="1.5"/>
<path d="M677.4,1128.6 C677,1128.4 676.5,1128 675.2,1127.5 C673.9,1127 671.4,1125.9 669.7,1125.9 C668.1,1125.9 666.6,1126.3 665.3,1127.5 C664,1128.7 662.5,1132.1 662,1133" stroke-width="1.8"/>
<path d="M677.4,1128.6 C677.1,1129.3 676.2,1131.5 675.5,1133 C674.8,1134.5 674,1135.6 673.3,1137.4 C672.6,1139.2 671.8,1141.7 671.4,1143.8 C671,1145.9 671.5,1148 671,1150.3 C670.5,1152.6 669.6,1154.5 668.7,1157.6 C667.9,1160.7 666.8,1165 665.9,1168.7 C665,1172.4 664.2,1175.7 663.1,1179.7 C662,1183.7 660.9,1188.3 659.5,1192.6 C658.1,1196.9 656.3,1201.7 654.9,1205.5 C653.5,1209.3 652.4,1212.1 651.2,1215.6 C650,1219.1 648.9,1223.3 647.5,1226.7 C646.1,1230.1 644.6,1233.5 642.9,1235.9 C641.2,1238.4 639.2,1240 637.4,1241.4 C635.6,1242.8 634.9,1243.6 632,1244.5 C629.1,1245.4 623.7,1246.3 620,1247 C616.3,1247.7 613.3,1248.1 610,1248.6 C606.7,1249.1 604.5,1249.4 600,1250 C595.5,1250.6 590.3,1251.8 583,1252.3 C575.7,1252.8 564.2,1252.6 556,1253 C547.8,1253.4 540.8,1254 534,1254.5 C527.2,1255 518.4,1255.8 515.3,1256" stroke-width="1.8"/>
<path d="M497.7,1257.2 L506.5,1259" stroke-width="1.6"/>
<path d="M511,1295.7 C514.8,1295.5 525.8,1294.6 534,1294.2 C542.2,1293.8 551.9,1293.5 560,1293.2 C568.1,1292.9 575,1292.5 582.5,1292.5 C590,1292.5 600.5,1293 605,1293.2 C609.5,1293.5 607,1293.8 609.5,1294 C612,1294.2 617.2,1294.8 620,1294.7 C622.8,1294.6 623.5,1294.1 626,1293.2 C628.5,1292.3 632.2,1290.6 635,1289.5 C637.8,1288.4 641.2,1287 642.5,1286.5" stroke-width="1.8"/>
<path d="M495.5,1295.7 L503.2,1298" stroke-width="1.6"/>
<path d="M583.2,1264.7 C583.7,1266.8 586.2,1273 586.2,1277.5 C586.2,1282 583.7,1289.3 583.2,1291.7" stroke-width="1.1"/>
<path d="M609.5,1291 C609.4,1289.6 610.5,1288.2 611.7,1287.2 C613,1286.2 615.4,1285.1 617,1285 C618.6,1284.9 620.6,1285.4 621.5,1286.5 C622.4,1287.6 622.6,1290.2 622.2,1291.7 C621.8,1293.2 620.8,1294.9 619.2,1295.5 C617.6,1296.1 614.1,1296.2 612.5,1295.5 C610.9,1294.8 609.6,1292.4 609.5,1291Z" stroke-width="1.4"/>
<ellipse cx="647" cy="1288" rx="3" ry="2.2" stroke-width="1.3"/>
<ellipse cx="654.5" cy="1287.2" rx="3" ry="1.5" stroke-width="1.3"/>
<ellipse cx="662" cy="1288" rx="3" ry="1.5" stroke-width="1.3"/>
<ellipse cx="670.2" cy="1287.6" rx="3.8" ry="4.1" stroke-width="1.3"/>
<ellipse cx="678.4" cy="1286.5" rx="3" ry="3" stroke-width="1.3"/>
<ellipse cx="684.4" cy="1287.2" rx="3" ry="2.2" stroke-width="1.3"/>
<ellipse cx="691.6" cy="1286.1" rx="2.6" ry="2.6" stroke-width="1.3"/>
<path d="M635,1264 C636.7,1263.7 641.5,1262.6 645,1262 C648.5,1261.4 652.2,1260.8 656,1260.2 C659.8,1259.7 662.8,1259.2 668,1258.7 C673.2,1258.2 684.2,1257.5 687.4,1257.2" stroke-width="1.1"/>
<path d="M659,1259.5 C659.2,1260.4 659.9,1263.5 660.5,1265 C661.1,1266.5 663.2,1266.7 662.5,1268.5 C661.8,1270.3 657.6,1273.2 656,1276 C654.4,1278.8 653.5,1283.5 653,1285" stroke-width="1.1"/>
<path d="M665,1259.5 C664.8,1260.4 663.9,1263.5 663.5,1265 C663.1,1266.5 662.8,1266.7 662.5,1268.5 C662.2,1270.3 662,1273.2 662,1276 C662,1278.8 662.6,1283.5 662.7,1285" stroke-width="1.1"/>
<path d="M692.8,1006.5 C693.9,1006.3 697.2,1006.1 699.4,1005.4 C701.6,1004.7 703.4,1002.5 706,1002.1 C708.6,1001.7 712,1003.3 714.8,1003.2 C717.5,1003.1 719.8,1002.2 722.5,1001.6 C725.2,1001 729.8,1000.2 731.3,999.9" stroke-width="1.3"/>
<path d="M733.5,1002 C733.5,1002.4 734,1002.6 733.5,1004.3 C733,1006 731,1008.9 730.2,1012 C729.4,1015.1 729,1019.3 728.6,1023 C728.2,1026.7 727.9,1030.3 728,1034 C728.1,1037.7 729,1041.3 729.1,1045 C729.2,1048.7 728.7,1052.3 728.6,1056 C728.5,1059.7 728.6,1063.3 728.6,1067 C728.6,1070.7 728.6,1074.3 728.6,1078 C728.6,1081.7 728.9,1085.3 728.6,1089 C728.3,1092.7 727.7,1096.7 726.9,1100 C726.1,1103.3 725.2,1105.9 723.6,1108.8 C722,1111.7 719.6,1115 717,1117.6 C714.4,1120.2 710.6,1122.5 708.2,1124.2 C705.8,1125.9 704,1126.4 702.7,1127.5 C701.4,1128.6 700.8,1129 700.5,1131 C700.2,1133 700.7,1136.3 700.9,1139.2 C701.1,1142.1 701.3,1145.3 701.8,1148.4 C702.3,1151.5 703.4,1154.2 703.7,1157.6 C704,1161 703.6,1164.9 703.7,1168.7 C703.8,1172.5 704.1,1176.6 704.1,1180.6 C704.1,1184.6 703.8,1189.4 703.7,1192.6 C703.6,1195.8 703.2,1197.4 703.7,1200 C704.2,1202.6 705.7,1205.8 706.4,1208.3 C707.1,1210.8 707.7,1212.4 707.8,1214.7 C707.9,1217 707.3,1219.6 706.9,1222.1 C706.5,1224.5 705.8,1226.6 705.5,1229.4 C705.2,1232.2 705.5,1235.5 705,1238.7 C704.5,1241.9 703.5,1245.8 702.7,1248.8 C702,1251.8 701.3,1254.7 700.5,1257 C699.7,1259.3 698.9,1259.6 698,1262.5 C697.1,1265.4 695.8,1271 695,1274.5 C694.2,1278 693.7,1282 693.4,1283.5" stroke-width="2.1"/>
<path d="M789.5,879.9 C789.6,883.2 789.8,893.5 790,899.8 C790.2,906.1 789.9,912.6 790.5,917.6 C791.1,922.6 792.8,925.9 793.5,929.5 C794.2,933.1 794.4,935.3 794.5,939.4 C794.6,943.5 793.8,949.3 794,954.3 C794.2,959.3 795.2,965.1 795.5,969.2 C795.8,973.3 796,975.1 796,979.1 C796,983.1 795.6,990.7 795.5,993" stroke-width="1.8"/>
<path d="M785.6,994 C785.6,993.2 788,990.1 789.5,989.2 C791,988.3 793.5,987.9 794.5,988.5 C795.5,989.1 796.3,992 795.5,993 C794.7,994 791.1,994 789.5,994.2 C787.9,994.4 785.6,994.8 785.6,994Z" stroke-width="1.4"/>
<ellipse cx="781.8" cy="993.5" rx="2.2" ry="2.5" stroke-width="1.4"/>
<ellipse cx="776.6" cy="995.2" rx="3" ry="3.7" stroke-width="1.4"/>
<ellipse cx="771.7" cy="995.5" rx="2" ry="3.5" stroke-width="1.4"/>
<ellipse cx="766.7" cy="995.8" rx="3" ry="3.2" stroke-width="1.4"/>
<ellipse cx="758.2" cy="995.3" rx="4.5" ry="1.8" stroke-width="1.4" transform="rotate(-15 758.2 995.3)"/>
<ellipse cx="751.3" cy="998.5" rx="2" ry="1.5" stroke-width="1.4"/>
<ellipse cx="746.3" cy="999.5" rx="2.5" ry="1.5" stroke-width="1.4"/>
<ellipse cx="739.4" cy="1001.5" rx="3.5" ry="3.5" stroke-width="1.4"/>
<path d="M758.5,850 C758.7,848.2 759.9,848 761,847.5 C762.1,847 763.2,847 765,847.2 C766.8,847.5 769.5,848.2 772,849 C774.5,849.8 777.9,851.1 780,852 C782.1,852.9 783.6,853.5 784.5,854.5 C785.4,855.5 785.6,856.8 785.5,858 C785.4,859.2 784.6,861.2 784,862 C783.4,862.8 783,863.2 782,863 C781,862.8 779.7,861.1 778,861 C776.3,860.9 774,862.6 772,862.5 C770,862.4 768,861.2 766,860.5 C764,859.8 761.2,859.8 760,858 C758.8,856.2 758.3,851.8 758.5,850Z" stroke-width="1.7"/>
<ellipse cx="754" cy="859.5" rx="5.4" ry="5.4" stroke-width="1.7"/>
<ellipse cx="784.5" cy="860" rx="2.2" ry="3.2" stroke-width="1.7"/>
<ellipse cx="793" cy="857.2" rx="5.4" ry="3.6" stroke-width="1.7"/>
<path d="M771,864 C771.2,864.5 770.3,866.6 772,867 C773.7,867.4 779.3,867.2 781,866.5 C782.7,865.8 782.8,863.2 782,862.5 C781.2,861.8 777.8,862.2 776,862.5 C774.2,862.8 771.8,863.8 771,864 C770.2,864.2 770.8,863.5 771,864Z" stroke-width="1.6"/>
<path d="M779,868 C780.2,867.6 783.2,867.8 785,867.8 C786.8,867.8 788.5,867.9 790,868 C791.5,868.1 792.9,868.2 794,868.6 C795.1,869 796.2,869.7 796.5,870.5 C796.8,871.3 796.7,872.7 796,873.5 C795.3,874.3 793.5,875 792.5,875.3 C791.5,875.6 790.6,875.6 790,875.5 C789.4,875.4 789.2,874.2 789,874.5 C788.8,874.8 788.9,876.2 788.5,877 C788.1,877.8 787.6,878.8 786.5,879.2 C785.4,879.6 783.3,879.7 782,879.3 C780.7,878.9 779.3,878 778.5,877 C777.7,876 777.2,874.2 777,873 C776.8,871.8 777.2,870.8 777.5,870 C777.8,869.2 777.8,868.4 779,868Z" stroke-width="1.7"/>
<rect x="761.1" y="351" width="5.4" height="241" fill="none" stroke-width="1.4"/>
<rect x="760.4" y="398.4" width="6.9" height="46" fill="#111" stroke="none"/>
<rect x="760.4" y="494.7" width="6.9" height="49.7" fill="#111" stroke="none"/>
<path d="M759.2,351 L770.6,350.4" stroke-width="1.8"/>
<path d="M759.2,350.5 L763,350.4 L762.2,354.6 Z M765.2,350.4 L770.6,350.4 L765.8,353 Z" fill="#111" stroke-width="0.8"/>
<path d="M760.6,592.1 L770.8,591.2" stroke-width="1.6"/>
<ellipse cx="779.6" cy="346" rx="6.2" ry="3.4" stroke-width="1.5" transform="rotate(-30 779.6 346)"/>
<path d="M270,674.4 L410,674.4" stroke-width="1" stroke-dasharray="12 7" stroke="#333"/>
<ellipse cx="300" cy="674.4" rx="9.5" ry="5.5" stroke-width="1.2"/>
<path d="M57.6,808.6 L414,808.6" stroke-width="1" stroke-dasharray="11 7" stroke="#333"/>
<path d="M798,954 L836,954" stroke-width="1.1" stroke-dasharray="11 7"/>
<path d="M491.8,955.4 L502.7,955.4" stroke-width="1.2"/>
<path d="M508.7,955.4 L524.3,955.4" stroke-width="1.2"/>
<path d="M492.7,958 L492.7,966" stroke-width="1.2"/>
<path d="M492.7,973.7 L492.7,979.8" stroke-width="1.2"/>
<path d="M492.7,990 L492.7,996.6" stroke-width="1.2"/>
<path d="M492.7,1003.9 L492.7,1012.9" stroke-width="1.2"/>
<path d="M492.7,1023 L492.7,1031.6" stroke-width="1.2"/>
<path d="M492.7,1038 L492.7,1044.8" stroke-width="1.2"/>
<path d="M492.7,1052 L492.7,1060.5" stroke-width="1.2"/>
<path d="M492.7,1066.5 L492.7,1072.5" stroke-width="1.2"/>
<path d="M492.7,1078.6 L492.7,1087" stroke-width="1.2"/>
<path d="M492.7,1094 L492.7,1099" stroke-width="1.2"/>
<path d="M443.6,1098.4 L458,1098.4" stroke-width="1.2"/>
<path d="M465.3,1098.4 L482.2,1098.4" stroke-width="1.2"/>
<path d="M487,1098.4 L493,1098.4" stroke-width="1.2"/>
<path d="M148,1100.4 L200,1100.4" stroke-width="1.1" stroke-dasharray="11 7"/>
<path d="M82,808.9 C83.2,808.2 86,807.9 89,807.5 C92,807.1 96.5,807 100.2,806.8 C103.9,806.6 108.1,806.6 111.4,806.1 C114.7,805.6 117.5,804.8 119.8,804 C122.1,803.2 123.5,801.6 125.4,801.2 C127.3,800.8 129.1,801 131,801.5 C132.9,802 134.3,803.6 136.6,804 C138.9,804.4 142.2,803.9 145,804 C147.8,804.1 149.9,804.5 153.4,804.7 C156.9,804.9 162.3,805.4 166,805.4 C169.7,805.4 172.5,805.3 175.8,804.7 C179.1,804.1 182.6,802.8 185.6,801.9 C188.6,801 191.4,799.6 194,799.1 C196.6,798.6 199.1,798.4 201,799.1 C202.9,799.8 204.4,801.8 205.3,803.3 C206.2,804.8 206.7,806.6 206.7,808.2 C206.7,809.8 206.2,811.7 205.3,813.1 C204.4,814.5 203.1,816.1 201,816.6 C198.9,817.1 195.4,816.5 192.6,815.9 C189.8,815.3 187.5,813.9 184.2,813.1 C180.9,812.3 177.2,811.5 173,811 C168.8,810.5 163.2,810.4 159,810.3 C154.8,810.2 150.8,810.1 147.8,810.3 C144.8,810.5 142.7,811 140.8,811.7 C138.9,812.4 138,813.9 136.6,814.5 C135.2,815.1 133.3,815.4 132.4,815.2 C131.5,815 132.2,813.3 131,813.1 C129.8,812.9 127.7,813.4 125.4,813.8 C123.1,814.1 119.8,815.2 117,815.2 C114.2,815.2 111.6,814.3 108.6,813.8 C105.6,813.3 102.1,812.6 98.8,812.4 C95.5,812.2 91.8,812.5 89,812.4 C86.2,812.3 83.2,812.3 82,811.7 C80.8,811.1 80.8,809.6 82,808.9Z" stroke-width="1.3"/>
<path d="M84,809.8 C85.3,809.6 89.5,808.8 92,808.6 C94.5,808.4 97.8,808.5 99,808.5" stroke-width="2.3"/>
<path d="M121,930 L134.5,1072" stroke-width="1.4"/>
<path d="M120.1,917.5 L124.2,930.5 L117,931 Z" fill="#111" stroke-width="1"/>
<circle cx="134.5" cy="1072.3" r="1.6" fill="#111" stroke="none"/>
<path d="M201,1101.8 C201.6,1101.1 203.2,1098.9 204.6,1097.6 C206,1096.3 207.8,1094.8 209.4,1094 C211,1093.2 212.8,1093.6 214.2,1092.8 C215.6,1092 216.6,1090.4 217.8,1089.2 C219,1088 219.6,1086.4 221.4,1085.6 C223.2,1084.8 226.2,1085.2 228.6,1084.4 C231,1083.6 233.4,1082.2 235.8,1080.8 C238.2,1079.4 240.6,1077.4 243,1076 C245.4,1074.6 248.4,1072.8 250.2,1072.4 C252,1072 252.8,1072.8 253.8,1073.6 C254.8,1074.4 255.2,1076.2 256.2,1077.2 C257.2,1078.2 258,1079.4 259.8,1079.6 C261.6,1079.8 264.2,1079.2 267,1078.4 C269.8,1077.6 273.2,1076.1 276.6,1074.8 C280,1073.5 285,1071.1 287.4,1070.6 C289.8,1070.1 290,1070.9 291,1071.8 C292,1072.7 292.6,1074.1 293.4,1076 C294.2,1077.9 294.9,1081.4 295.8,1083.2 C296.7,1085 297.6,1086.2 299,1086.8 C300.4,1087.4 301.7,1087.1 304,1087 C306.3,1086.9 310,1086.3 313,1086.1 C316,1085.9 319.4,1085.8 322,1085.7 C324.6,1085.6 326.1,1085.6 328.3,1085.7 C330.6,1085.8 332.8,1085.9 335.5,1086.1 C338.2,1086.2 341.9,1086.5 344.5,1086.6 C347.1,1086.7 348.6,1086.8 350.8,1086.6 C353.1,1086.4 355.3,1085.1 358,1085.2 C360.7,1085.3 364,1086.5 367,1087 C370,1087.5 373,1088 376,1088.4 C379,1088.8 381.8,1089.2 385,1089.2 C388.2,1089.2 389.8,1088.6 395,1088.6 C400.2,1088.6 409,1089.3 416,1089.4 C423,1089.5 432,1089.5 437,1089.4 C442,1089.3 442.9,1089.1 446,1089 C449.1,1088.9 453.3,1089.1 455.7,1088.8 C458.1,1088.5 458.5,1086.8 460.5,1087 C462.5,1087.2 465.1,1089.6 467.7,1090 C470.3,1090.4 474.2,1089.2 476,1089.4 C477.8,1089.6 479,1090.7 478.6,1091.2 C478.2,1091.7 477.1,1091.8 473.7,1092.4 C470.3,1093 462.8,1094.1 458,1094.8 C453.2,1095.5 448.3,1095.9 444.8,1096.6 C441.3,1097.3 441.8,1098.2 437,1098.8 C432.2,1099.4 421.6,1099.1 416,1100 C410.4,1100.9 406.9,1103.2 403.4,1104.1 C399.9,1104.9 398.1,1105.1 395,1105.1 C391.9,1105.1 388.2,1104.5 385,1104.3 C381.8,1104.1 379,1104.2 376,1104.1 C373,1104 370,1103.8 367,1103.7 C364,1103.6 361,1103.2 358,1103.2 C355,1103.2 352,1103.6 349,1103.7 C346,1103.8 343,1104.2 340,1104.1 C337,1103.9 334,1102.9 331,1102.8 C328,1102.7 325,1103.2 322,1103.2 C319,1103.2 316,1103 313,1102.8 C310,1102.6 307.1,1102.3 304,1101.9 C300.9,1101.5 296.8,1100.7 294.6,1100.6 C292.4,1100.5 293.2,1101 291,1101.2 C288.8,1101.4 283.8,1101.8 281.4,1101.8 C279,1101.8 277.8,1101.1 276.6,1101.2 C275.4,1101.3 275.8,1102.2 274.2,1102.4 C272.6,1102.6 270.2,1102.2 267,1102.4 C263.8,1102.6 258.2,1103.3 255,1103.6 C251.8,1103.9 249.8,1104.3 247.8,1104.2 C245.8,1104.1 245.8,1103 243,1103 C240.2,1103 235,1103.9 231,1104.2 C227,1104.5 223,1104.9 219,1104.8 C215,1104.7 210,1104 207,1103.6 C204,1103.2 202,1102.6 201,1102.4" stroke-width="1.4"/>
<path d="M259.8,1080.8 C261.1,1079.8 264.2,1079.6 267,1079.6 C269.8,1079.6 273.4,1080.5 276.6,1080.8 C279.8,1081.1 283.8,1081 286.2,1081.4 C288.6,1081.8 289.8,1082.1 291,1083.2 C292.2,1084.3 292.8,1086.2 293.4,1088 C294,1089.8 294.6,1091.9 294.6,1094 C294.6,1096.1 294.4,1099.4 293.4,1100.6 C292.4,1101.8 291,1101.2 288.6,1101.2 C286.2,1101.2 281.4,1101 279,1100.6 C276.6,1100.2 275.4,1099.7 274.2,1098.8 C273,1097.9 272.8,1096.4 271.8,1095.2 C270.8,1094 269.8,1092.6 268.2,1091.6 C266.6,1090.6 263.7,1090.2 262.2,1089.2 C260.7,1088.2 259.6,1087 259.2,1085.6 C258.8,1084.2 258.5,1081.8 259.8,1080.8Z" stroke-width="2.1"/>
<path d="M304.9,1094.2 C306.7,1094.3 312.8,1095.2 315.7,1094.7 C318.6,1094.2 319.9,1092.9 322,1091.5 C324.1,1090.1 327.2,1087 328.3,1086.1" stroke-width="1.2"/>
<path d="M315.7,1094.7 C317.1,1094.9 321.2,1095 323.8,1096 C326.4,1097 329.1,1099.3 331,1100.5 C332.9,1101.7 334.8,1102.8 335.5,1103.2" stroke-width="1.2"/>
<path d="M350.8,1086.6 C351.1,1087 352,1088 352.6,1088.8 C353.2,1089.6 353.5,1090.8 354.4,1091.5 C355.3,1092.2 357.2,1092.5 358,1093.3 C358.8,1094 359.2,1095.2 358.9,1096 C358.6,1096.8 357.8,1097.3 356.2,1097.8 C354.6,1098.2 350.8,1098.2 349,1098.7 C347.2,1099.2 346.4,1099.6 345.4,1100.5 C344.3,1101.4 343.1,1103.5 342.7,1104.1" stroke-width="1.2"/>
<circle cx="354.9" cy="1094.2" r="0.8" fill="#111" stroke="none"/>
<path d="M220.8,1084.4 C220.4,1083.6 219.7,1081.2 218.4,1079.6 C217.1,1078 214.9,1076.6 213,1074.8 C211.1,1073 208.4,1071 207,1068.8 C205.6,1066.6 205,1063.8 204.6,1061.6 C204.2,1059.4 203.8,1057.2 204.6,1055.6 C205.4,1054 207.4,1052.8 209.4,1052 C211.4,1051.2 214,1051.2 216.6,1051 C219.2,1050.8 221.6,1050.7 225,1050.8 C228.4,1050.9 233,1051.2 237,1051.4 C241,1051.6 245,1051.9 249,1052 C253,1052.1 257,1052.2 261,1052 C265,1051.8 269,1051.4 273,1050.8 C277,1050.2 281.2,1049 285,1048.6 C288.8,1048.2 292.6,1048.1 295.8,1048.4 C299,1048.7 301.8,1049.4 304.2,1050.2 C306.6,1051 308.9,1051.9 310.2,1053.2 C311.5,1054.5 312,1056.6 312,1058 C312,1059.4 311.7,1060.6 310.2,1061.6 C308.7,1062.6 305.4,1063.1 303,1064 C300.6,1064.9 297,1066.5 295.8,1067" stroke-width="1.3" stroke-dasharray="7 4.5"/>
<path d="M45,1317.5 C45.8,1317 46.7,1316.2 50,1314.5 C53.3,1312.8 60,1309.8 65,1307.5 C70,1305.2 75.8,1302.8 80,1301 C84.2,1299.2 87.3,1298 90,1296.5 C92.7,1295 94.3,1292.9 96,1292 C97.7,1291.1 98.3,1291.7 100,1291 C101.7,1290.3 104.3,1288.7 106,1287.8 C107.7,1286.9 108.5,1285.9 110,1285.5 C111.5,1285.1 113,1285.8 115,1285.3 C117,1284.8 119.4,1284.2 122,1282.5 C124.6,1280.8 127.6,1277.5 130.5,1275 C133.4,1272.5 137.1,1269.3 139.6,1267.4 C142.1,1265.5 143.6,1265 145.6,1263.8 C147.6,1262.6 149.6,1261.6 151.6,1260.2 C153.6,1258.8 155.8,1257.2 157.6,1255.4 C159.4,1253.6 160.8,1251 162.4,1249.4 C164,1247.8 165.6,1246.7 167.2,1245.8 C168.8,1244.9 171.2,1244.3 172,1244" stroke-width="1.3"/>
<path d="M46.5,1322.5 C47.1,1322.3 47.4,1322.2 50,1321.5 C52.6,1320.8 57,1319.8 62,1318 C67,1316.2 74.5,1313.3 80,1311 C85.5,1308.7 89.7,1306.3 95,1304 C100.3,1301.7 108.4,1298.5 112,1297 C115.6,1295.5 114.8,1295.9 116.8,1295 C118.8,1294.1 121.6,1292.6 124,1291.4 C126.4,1290.2 129.2,1288.5 131.2,1287.8 C133.2,1287.1 134.2,1287.2 136,1287.2 C137.8,1287.2 139,1288.1 142,1287.8 C145,1287.5 150,1286.2 154,1285.4 C158,1284.6 162,1284 166,1283 C170,1282 174,1280.6 178,1279.4 C182,1278.2 186.6,1276.9 190,1275.8 C193.4,1274.7 195.8,1273.8 198.4,1272.8 C201,1271.8 203.2,1270.9 205.6,1269.8 C208,1268.7 210.6,1267.2 213,1266 C215.4,1264.8 218.2,1263.5 220,1262.4 C221.8,1261.3 221.3,1261.1 224,1259.4 C226.7,1257.7 232,1254.6 236,1252.2 C240,1249.8 244,1247.2 248,1245 C252,1242.8 256.4,1240.6 260,1239 C263.6,1237.4 267.2,1236.4 269.6,1235.4 C272,1234.4 272,1233.7 274.4,1233 C276.8,1232.3 280.4,1231.6 284,1231.2 C287.6,1230.8 292.4,1230.6 296,1230.6 C299.6,1230.6 303.5,1230.9 305.6,1231.2 C307.7,1231.5 308.4,1231.9 308.4,1232.6 C308.4,1233.3 307.1,1234.5 305.6,1235.4 C304.1,1236.3 301.3,1237.1 299.6,1237.8 C297.9,1238.5 296.2,1239.1 295.5,1239.4" stroke-width="1.3"/>
<path d="M36.5,1321.5 L39.5,1320.5" stroke-width="1.1"/>
<path d="M38.5,1325.5 L42.5,1324" stroke-width="1.1"/>
<path d="M145.6,1263.8 C146.6,1263.8 149.2,1263.6 151.6,1263.6 C154,1263.6 158,1263.8 160,1264 C162,1264.2 163.4,1264.6 163.6,1265 C163.8,1265.4 161.8,1265 161.2,1266.2 C160.6,1267.4 160.8,1270.4 160,1272.2 C159.2,1274 158.4,1275.4 156.4,1277 C154.4,1278.6 150.4,1280.4 148,1281.8 C145.6,1283.2 143,1284.8 142,1285.4" stroke-width="1.2"/>
<path d="M141.4,1217 C142.3,1217 145.3,1216.6 146.8,1217 C148.3,1217.4 148.8,1218.4 150.4,1219.4 C152,1220.4 154.2,1221.4 156.4,1223 C158.6,1224.6 161.6,1227 163.6,1229 C165.6,1231 167.1,1233 168.4,1235 C169.7,1237 170.8,1239.5 171.4,1241 C172,1242.5 171.9,1243.5 172,1244" stroke-width="1.2"/>
<path d="M143.2,1213.2 C144,1213.2 146.2,1212.9 148,1213.3 C149.8,1213.7 151.8,1214.6 154,1215.8 C156.2,1217 159,1218.6 161.2,1220.6 C163.4,1222.6 165.4,1226 167.2,1227.8 C169,1229.6 170,1230.4 172,1231.4 C174,1232.4 176.8,1233 179.2,1233.8 C181.6,1234.6 184,1235.8 186.4,1236.2 C188.8,1236.6 191,1236.6 193.6,1236.2 C196.2,1235.8 199.2,1235 202,1233.8 C204.8,1232.6 208.1,1230.5 210.4,1229 C212.7,1227.5 214.1,1226.2 216,1225 C217.9,1223.8 220,1223.1 222,1222 C224,1220.9 226.1,1219.7 228,1218.5 C229.9,1217.3 231.3,1216.2 233.6,1215 C235.9,1213.8 238.8,1212.4 242,1211.4 C245.2,1210.4 249.8,1209.9 252.8,1209 C255.8,1208.1 257.2,1206.9 260,1206 C262.8,1205.1 266.6,1203.9 269.6,1203.6 C272.6,1203.3 274.6,1203.6 278,1204.2 C281.4,1204.8 286,1206.7 290,1207.2 C294,1207.7 299.5,1207.7 302,1207.2 C304.5,1206.8 304.5,1205.4 305.2,1204.5 C305.9,1203.6 305.9,1202.3 306.4,1201.6 C306.9,1200.9 307.7,1200.6 308.4,1200.4 C309.1,1200.2 309.4,1200.3 310.4,1200.5 C311.4,1200.7 312.7,1201 314.4,1201.6 C316.1,1202.2 318.8,1203.1 320.4,1204 C322,1204.9 323.4,1206.5 324,1207" stroke-width="1.3"/>
<path d="M173.2,1243.4 C174.6,1243 179.5,1241.7 181.6,1241 C183.7,1240.3 185.1,1239.5 185.8,1239.2" stroke-width="1.2"/>
<path d="M162,1258 C161.9,1256.7 163.2,1255.6 164.5,1255 C165.8,1254.4 168.1,1254.3 170,1254.2 C171.9,1254.1 174.6,1254 176,1254.6 C177.4,1255.1 178.3,1256.3 178.6,1257.5 C178.8,1258.7 178.6,1260.5 177.5,1261.5 C176.4,1262.5 174.1,1263 172,1263.2 C169.9,1263.4 166.7,1263.7 165,1262.8 C163.3,1261.9 162.1,1259.3 162,1258Z" stroke-width="1.3"/>
<path d="M186.4,1261.4 C187.3,1259.6 189.6,1256.9 191.2,1255.4 C192.8,1253.9 193.6,1252.8 196,1252.4 C198.4,1252 202.6,1252.7 205.6,1253 C208.6,1253.3 212.1,1253.4 214,1254.2 C215.9,1255 216.6,1256.4 217,1257.8 C217.4,1259.2 217.5,1261.1 216.4,1262.6 C215.3,1264.1 212.8,1265.8 210.4,1266.8 C208,1267.8 205.2,1268.2 202,1268.6 C198.8,1269 193.9,1269.6 191.2,1269.2 C188.5,1268.8 186.6,1267.5 185.8,1266.2 C185,1264.9 185.5,1263.2 186.4,1261.4Z" stroke-width="1.3"/>
<path d="M214.4,1231.8 C215.3,1231.3 217.8,1231.4 219.2,1231.2 C220.6,1231 221.6,1230.5 222.8,1230.6 C224,1230.7 225.5,1231 226.4,1231.8 C227.3,1232.6 228,1234.3 228.2,1235.4 C228.4,1236.5 227.4,1237.6 227.6,1238.4 C227.8,1239.2 229.4,1239.6 229.4,1240.2 C229.4,1240.8 228.5,1241.8 227.6,1242 C226.7,1242.2 225,1242 224,1241.4 C223,1240.8 222.6,1239 221.6,1238.4 C220.6,1237.8 219.2,1238.1 218,1237.8 C216.8,1237.5 215.1,1237.2 214.4,1236.6 C213.7,1236 213.8,1235 213.8,1234.2 C213.8,1233.4 213.5,1232.3 214.4,1231.8Z" stroke-width="1.2"/>
<ellipse cx="241.4" cy="1227.6" rx="4.2" ry="2.8" stroke-width="1.2" transform="rotate(-15 241.4 1227.6)"/>
<ellipse cx="235.2" cy="1230.2" rx="2.4" ry="1.9" stroke-width="1.2"/>
<ellipse cx="248.6" cy="1237.8" rx="4" ry="2.8" stroke-width="1.2" transform="rotate(-25 248.6 1237.8)"/>
<path d="M252.8,1209 C253.4,1209.6 254.6,1211.5 256.4,1212.6 C258.2,1213.7 261.2,1214.4 263.6,1215.6 C266,1216.8 269,1218.1 270.8,1219.8 C272.6,1221.5 273.8,1223.8 274.4,1225.8 C275,1227.8 274.4,1231 274.4,1232" stroke-width="1.3"/>
<path d="M291.2,1210.2 C292,1211.2 295.2,1214 296,1216.2 C296.8,1218.4 296.6,1221.2 296,1223.4 C295.4,1225.6 293.2,1228.2 292.4,1229.4 C291.6,1230.6 291.4,1230.4 291.2,1230.6" stroke-width="1.2"/>
<path d="M286.4,1245 C287.2,1243.5 289,1241.8 291.2,1240.8 C293.4,1239.8 297.4,1238.9 299.6,1239 C301.8,1239.1 303.4,1240.2 304.4,1241.4 C305.4,1242.6 305.4,1244.4 305.6,1246.2 C305.8,1248 306.2,1250.4 305.6,1252.2 C305,1254 303.8,1256 302,1257 C300.2,1258 297,1258.6 294.8,1258.2 C292.6,1257.8 290.2,1256 288.8,1254.6 C287.4,1253.2 286.8,1251.4 286.4,1249.8 C286,1248.2 285.6,1246.5 286.4,1245Z" stroke-width="1.3"/>
<path d="M306,1213 C307.1,1211.7 309,1211 312,1210 C315,1209 320.6,1207.7 324,1207 C327.4,1206.3 329.8,1205.7 332.4,1205.8 C335,1205.9 337.2,1206.4 339.6,1207.6 C342,1208.8 344.8,1211.1 346.8,1213 C348.8,1214.9 350.6,1216.8 351.6,1219 C352.6,1221.2 352.7,1223.8 352.8,1226.2 C352.9,1228.6 352.4,1231 352.2,1233.4 C352,1235.8 352.3,1238.8 351.6,1240.6 C350.9,1242.4 349.8,1243.1 348,1244.2 C346.2,1245.3 343.6,1246.7 340.8,1247.2 C338,1247.7 334.2,1247.7 331.2,1247.2 C328.2,1246.7 325.2,1245.5 322.8,1244.2 C320.4,1242.9 318.4,1241.2 316.8,1239.4 C315.2,1237.6 314.6,1235.8 313.2,1233.4 C311.8,1231 309.7,1227.6 308.4,1225 C307.1,1222.4 305.8,1219.8 305.4,1217.8 C305,1215.8 304.9,1214.3 306,1213Z" stroke-width="1.3"/>
<path d="M306.5,1243.2 C307,1243.6 308.3,1244.4 309.6,1245.4 C310.9,1246.4 312.4,1248.1 314.4,1249 C316.4,1249.9 319.2,1250.5 321.6,1250.8 C324,1251.1 325.8,1250.9 328.8,1250.8 C331.8,1250.7 336.4,1249.9 339.6,1250.2 C342.8,1250.5 345.6,1251.9 348,1252.6 C350.4,1253.3 352,1254 354,1254.4 C356,1254.8 358.2,1254.4 360,1255 C361.8,1255.6 363.4,1256.8 364.8,1258 C366.2,1259.2 367.8,1261.5 368.4,1262.2" stroke-width="1.3"/>
<path d="M339.6,1249.6 C340.4,1249.1 342.4,1247.9 344.4,1246.6 C346.4,1245.3 349.8,1242.5 351.6,1241.8 C353.4,1241.1 353.8,1242.1 355.2,1242.4 C356.6,1242.7 358.8,1243.3 360,1243.6 C361.2,1243.9 362.2,1243.5 362.4,1244.2 C362.6,1244.9 361.5,1246.6 361.2,1247.8 C360.9,1249 360.8,1250.2 360.6,1251.4 C360.4,1252.6 360.1,1254.4 360,1255" stroke-width="1.3"/>
<path d="M361.2,1248.6 C361.9,1247.1 363,1246 364.8,1244.4 C366.6,1242.8 368.8,1241.2 372,1239 C375.2,1236.8 380,1233.3 384,1231.2 C388,1229.1 391.4,1227.5 396,1226.4 C400.6,1225.3 407,1224.5 411.6,1224.4 C416.2,1224.3 419.8,1225.1 423.6,1225.8 C427.4,1226.5 431.4,1228 434.4,1228.8 C437.4,1229.6 438.4,1230.2 441.6,1230.6 C444.8,1231 449.2,1230.8 453.6,1231.2 C458,1231.6 464.7,1232.3 468,1233 C471.3,1233.7 472.6,1234.4 473.4,1235.4 C474.2,1236.4 473.5,1237.5 472.8,1239 C472.1,1240.5 471,1243.1 469.2,1244.4 C467.4,1245.7 464.6,1246.1 462,1246.8 C459.4,1247.5 457.6,1247.9 453.6,1248.6 C449.6,1249.3 442.6,1250.2 438,1251 C433.4,1251.8 430,1252.8 426,1253.4 C422,1254 417.6,1254.2 414,1254.6 C410.4,1255 407,1255.2 404.4,1255.8 C401.8,1256.4 400.4,1257.4 398.4,1258.2 C396.4,1259 395.8,1260 392.4,1260.6 C389,1261.2 382,1261.5 378,1261.8 C374,1262.1 370.8,1263 368.4,1262.4 C366,1261.8 364.9,1259.7 363.6,1258.2 C362.3,1256.7 361,1255 360.6,1253.4 C360.2,1251.8 360.5,1250.1 361.2,1248.6Z" stroke-width="1.3"/>
<path d="M404.4,1242.6 C404.2,1241.5 405.2,1239.9 406.8,1239 C408.4,1238.1 410.8,1238 414,1237.2 C417.2,1236.4 421.4,1235.1 426,1234.2 C430.6,1233.3 437.4,1232.1 441.6,1231.8 C445.8,1231.5 448.6,1231.5 451.2,1232.4 C453.8,1233.3 456,1235.5 457.2,1237.2 C458.4,1238.9 458.6,1241 458.4,1242.6 C458.2,1244.2 458.4,1245.7 456,1246.8 C453.6,1247.9 448.4,1248.4 444,1249.2 C439.6,1250 434,1251.2 429.6,1251.6 C425.2,1252 420.6,1252 417.6,1251.6 C414.6,1251.2 413.2,1250.2 411.6,1249.2 C410,1248.2 409.2,1246.7 408,1245.6 C406.8,1244.5 404.6,1243.7 404.4,1242.6Z" stroke-width="1.3"/>
<path d="M369.6,1263 C370.6,1264.2 374.2,1268 375.6,1270.2 C377,1272.4 377.4,1273.8 378,1276.2 C378.6,1278.6 378.7,1281.6 379.2,1284.6 C379.7,1287.6 380,1291.4 381,1294.2 C382,1297 384.1,1299.8 385.2,1301.4 C386.3,1303 387.2,1303.4 387.6,1303.8" stroke-width="1.1" stroke-dasharray="6 3.5"/>
<path d="M458.4,1248.6 C457.2,1249.8 453.6,1253 451.2,1255.8 C448.8,1258.6 446.2,1262 444,1265.4 C441.8,1268.8 440,1272.6 438,1276.2 C436,1279.8 434,1283.4 432,1287 C430,1290.6 427.7,1294.6 426,1297.8 C424.3,1301 422.5,1304.8 421.8,1306.2" stroke-width="1.1" stroke-dasharray="6 3.5"/>
<path d="M385.8,1303.8 C386.4,1303 388.1,1301.4 390,1301.4 C391.9,1301.4 394.6,1303.1 397.2,1303.8 C399.8,1304.5 402.6,1305.2 405.6,1305.6 C408.6,1306 412.8,1305.5 415.2,1306.2 C417.6,1306.9 419.4,1308.4 420,1309.8 C420.6,1311.2 419.6,1313.5 418.8,1314.6 C418,1315.7 418,1316.2 415.2,1316.4 C412.4,1316.6 405.2,1316.1 402,1315.8 C398.8,1315.5 397.8,1315.4 396,1314.6 C394.2,1313.8 392.8,1312.4 391.2,1311 C389.6,1309.6 387.3,1307.4 386.4,1306.2 C385.5,1305 385.2,1304.6 385.8,1303.8Z" stroke-width="1.3"/>
<text x="315.5" y="357.5" font-size="13" filter="url(#gs)">1</text>
<text x="390.5" y="562.5" font-size="13" filter="url(#gs)">2</text>
<text x="431.5" y="610.5" font-size="13.5" filter="url(#gs)">3</text>
<text x="522.6" y="563.2" font-size="15.5" filter="url(#gs)">4</text>
<text x="567.6" y="986" font-size="14" filter="url(#gs)">5</text>
<text x="733.2" y="993.5" font-size="13" filter="url(#gs)">6</text>
<text x="243.6" y="1096.6" font-size="13.5" filter="url(#gs)">5</text>
<text x="362.6" y="1101.6" font-size="14" filter="url(#gs)">6</text>
<text x="197" y="1246.5" font-size="10.5" filter="url(#gs)">1</text>
<text x="294.3" y="1251.2" font-size="10" filter="url(#gs)">2</text>
<text x="333.2" y="1227.6" font-size="14.5" filter="url(#gs)">3</text>
<text x="387.6" y="1244.4" font-size="14.5" filter="url(#gs)">4</text>
<path d="M776.2,591.5 L781.6,584 L780.7,592.7" stroke-width="1.3"/>
<ellipse cx="788.8" cy="590.4" rx="4.6" ry="3.8" stroke-width="1.2" transform="rotate(-20 788.8 590.4)"/>
<circle cx="731" cy="995" r="0.9" fill="#111" stroke="none"/>
<path d="M186,216.5 L188.5,209.5 L189,217.5" stroke-width="1.2"/>
<ellipse cx="193.6" cy="209.2" rx="1.3" ry="1.3" stroke-width="1.1"/>
<text x="202.5" y="216.5" font-size="10.2" lengthAdjust="spacingAndGlyphs" style="stroke:#111;stroke-width:0.15px" textLength="56" filter="url(#gs)">INGRESSO</text>
<text x="630" y="187.3" font-size="10.5" lengthAdjust="spacingAndGlyphs" style="stroke:#111;stroke-width:0.15px" textLength="5.6" filter="url(#gs)">2</text>
<circle cx="639" cy="180.3" r="1.3" fill="#111" stroke="none"/>
<text x="646.5" y="187" font-size="10" lengthAdjust="spacingAndGlyphs" style="stroke:#111;stroke-width:0.15px" textLength="54.5" filter="url(#gs)">INGRESSO</text>
<path d="M160,1197.5 L163.5,1193.6 L162,1202" stroke-width="1.2"/>
<ellipse cx="170.3" cy="1195.3" rx="1.3" ry="1.3" stroke-width="1.1"/>
<text x="177.5" y="1201.3" font-size="10.5" lengthAdjust="spacingAndGlyphs" style="stroke:#111;stroke-width:0.15px" textLength="53" filter="url(#gs)">INGRESSO</text>
<text x="401.3" y="1336.8" font-size="10.5" lengthAdjust="spacingAndGlyphs" style="stroke:#111;stroke-width:0.15px" textLength="8.5" filter="url(#gs)">2</text>
<ellipse cx="413" cy="1328.6" rx="1.3" ry="1.3" stroke-width="1.1"/>
<text x="422.8" y="1336.3" font-size="10.2" lengthAdjust="spacingAndGlyphs" style="stroke:#111;stroke-width:0.15px" textLength="55" filter="url(#gs)">INGRESSO</text>
<path d="M640,63.4 C641.9,60 645,58.4 649,58.4 C654,58.4 658.2,60.6 658.2,64.6 C658.2,68.6 654.4,71.8 649,72 C655.2,72 659.2,74.8 659.2,79.2 C659.2,83.6 655.4,86.4 650.4,86.4 C644.9,86.4 641.4,84.6 639.4,81.4" stroke-width="2.9"/>
<path d="M667.4,59.8 Q676,58.6 687,59.4 C683.5,66 677,76 674.4,88" stroke-width="2.9"/>
<path d="M703,58.5 C698.4,58.5 695.6,61.4 695.6,65.4 C695.6,69.4 698.4,72.3 703,72.3 C707.6,72.3 710.4,69.4 710.4,65.4 C710.4,61.4 707.6,58.5 703,58.5 Z M702.4,73.8 C697.8,73.8 695.1,76.8 695.1,80.9 C695.1,85 697.8,87.8 702.4,87.8 C707,87.8 709.7,85 709.7,80.9 C709.7,76.8 707,73.8 702.4,73.8 Z" stroke-width="2.9"/>
<path d="M721.9,63.4 C723.9,60 727.1,58.4 731.2,58.4 C736.3,58.4 740.7,60.6 740.7,64.6 C740.7,68.6 736.8,71.8 731.2,72 C737.6,72 741.7,74.8 741.7,79.2 C741.7,83.6 737.8,86.4 732.6,86.4 C727,86.4 723.4,84.6 721.3,81.4" stroke-width="2.9"/>
<path d="M757.2,47.6 L742.2,104.2" stroke-width="2.9"/>
<path d="M762.6,62.8 C764.5,59.3 767.5,57.8 771.1,57.8 C776.5,57.8 780.6,61 780.6,65.8 C780.6,70.5 776,74 770.5,78 C766.5,81 763.5,84 763.1,86.4 L781.2,86.4" stroke-width="2.9"/>
<path d="M801.3,58 C794.5,58 791,63 791,72 C791,81 794.5,86.2 801.3,86.2 C808.1,86.2 811.6,81 811.6,72 C811.6,63 808.1,58 801.3,58 Z" stroke-width="2.9"/>
<path d="M840,60.5 C838,58.6 835,57.8 832,57.8 C825.5,57.8 822.5,64 822.5,73 C822.5,82 826,86.4 832.5,86.4 C839,86.4 842.8,82.5 842.8,77.5 C842.8,72 839,68.5 832.8,68.5 C828,68.5 824.5,70.5 823,73" stroke-width="2.9"/>
<path d="M856.2,63.4 C858.2,60 861.3,58.4 865.4,58.4 C870.5,58.4 874.8,60.6 874.8,64.6 C874.8,68.6 870.9,71.8 865.4,72 C871.7,72 875.8,74.8 875.8,79.2 C875.8,83.6 871.9,86.4 866.8,86.4 C861.2,86.4 857.6,84.6 855.6,81.4" stroke-width="2.9"/>
<path d="M890.4,87 L890.4,59 L909.4,59 M890.4,73.7 L906.5,73.7" stroke-width="2.9"/>
<path d="M920.8,87 L920.8,59 L934,59 C939,59 941.5,62 941.5,66.2 C941.5,70.5 938.5,74 933.5,74 L920.8,74 M932.5,74 L940.2,86.8" stroke-width="2.9"/>
<circle cx="116" cy="269" r="0.7" fill="#555" stroke="none"/>
<circle cx="500" cy="251" r="0.6" fill="#555" stroke="none"/>
<circle cx="718.6" cy="215" r="0.6" fill="#555" stroke="none"/>
<circle cx="718.6" cy="335" r="0.6" fill="#555" stroke="none"/>
<circle cx="584.7" cy="618.5" r="0.8" fill="#555" stroke="none"/>
<circle cx="189.5" cy="859" r="0.6" fill="#555" stroke="none"/>
<circle cx="79" cy="973" r="0.6" fill="#555" stroke="none"/>
<circle cx="832" cy="1252" r="0.6" fill="#555" stroke="none"/>
<circle cx="429" cy="889" r="0.6" fill="#555" stroke="none"/>
</g>
</svg>
</body></html>
